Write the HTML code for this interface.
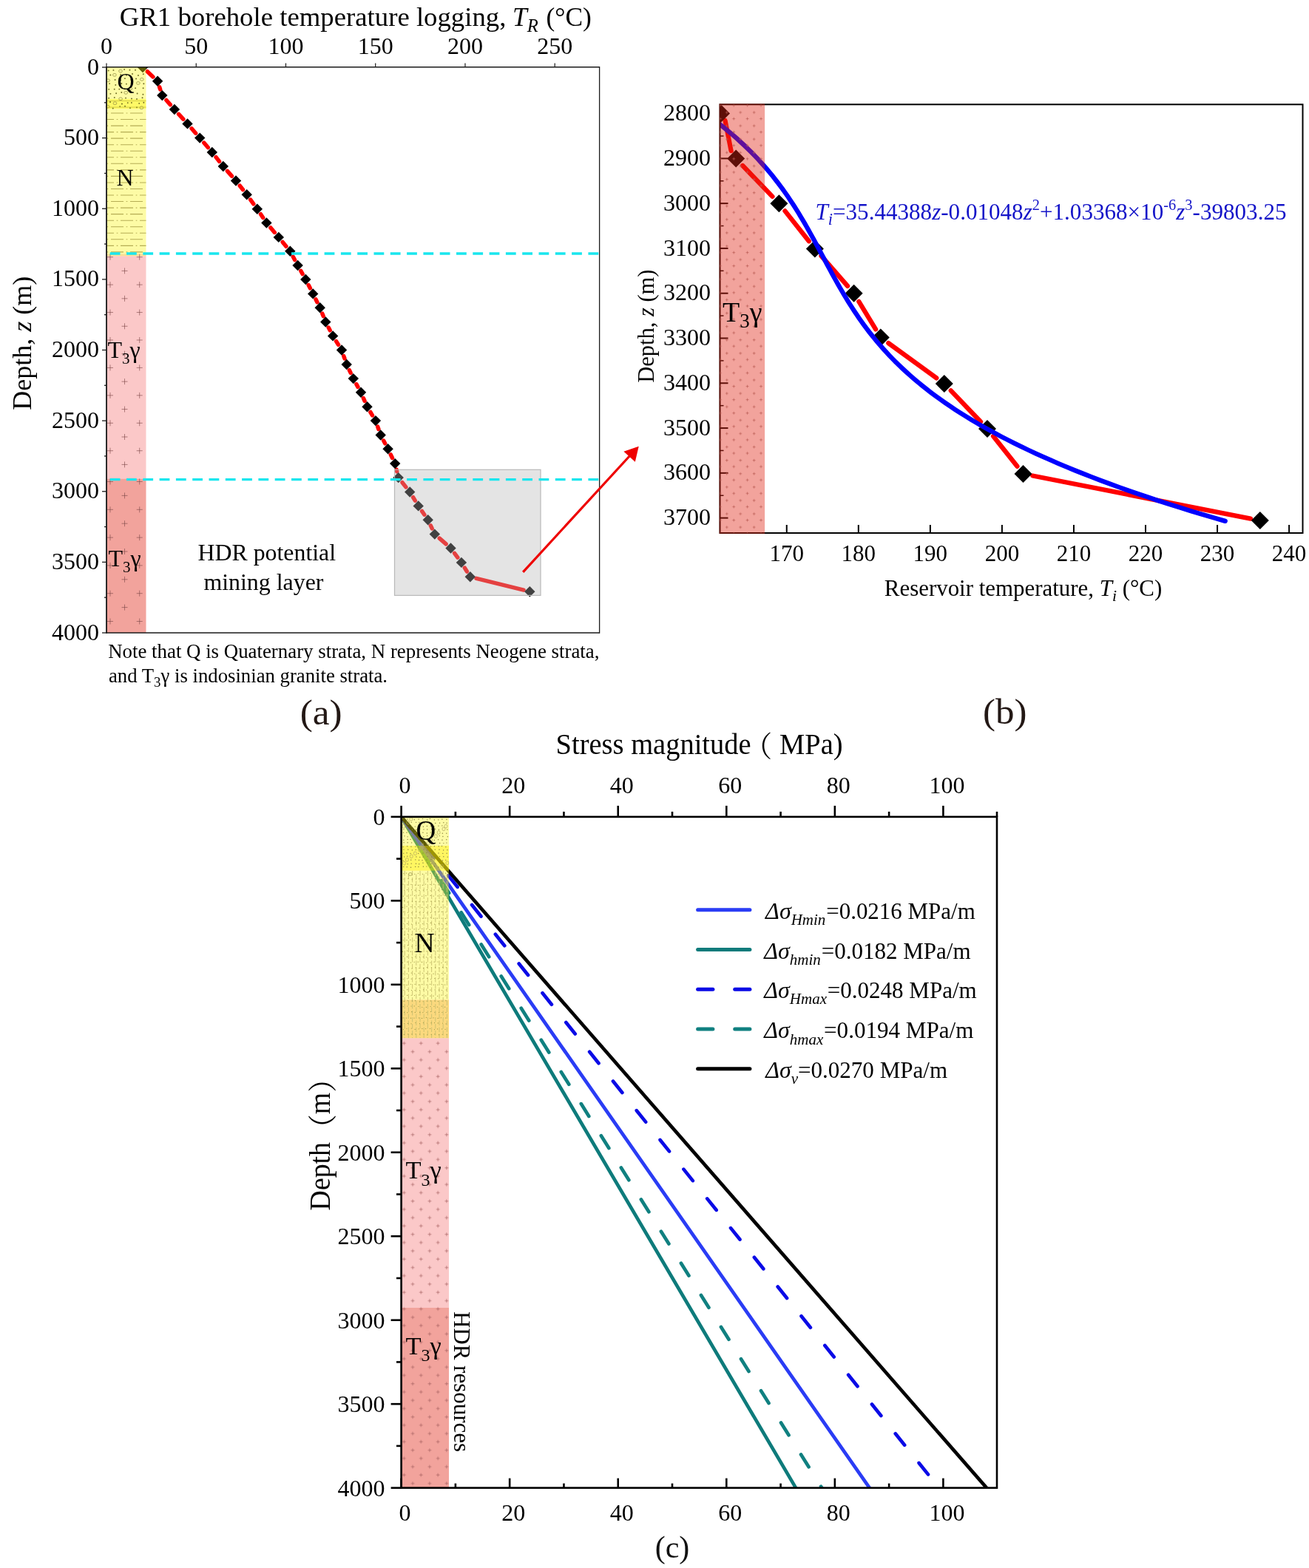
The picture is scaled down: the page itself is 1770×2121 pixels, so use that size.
<!DOCTYPE html>
<html><head><meta charset="utf-8"><title>Figure</title>
<style>html,body{margin:0;padding:0;background:#fff;} svg{display:block;}</style>
</head><body>
<svg width="1770" height="2121" viewBox="0 0 1770 2121"><defs>
<clipPath id="clipA"><rect x="144" y="90.7" width="666.6" height="765.3"/></clipPath>
<clipPath id="clipB"><rect x="973.5" y="141.3" width="788" height="579.7"/></clipPath>
<clipPath id="clipC"><rect x="542.6" y="1104.9" width="805.4" height="907.7"/></clipPath>
</defs>
<g clip-path="url(#clipA)">
<line x1="199.22" y1="96.79" x2="206.88" y2="103.91" stroke="#ff0000" stroke-width="5.5" stroke-linecap="round"/>
<line x1="215.69" y1="117.8" x2="216.71" y2="121" stroke="#ff0000" stroke-width="5.5" stroke-linecap="round"/>
<line x1="224.91" y1="135.49" x2="230.29" y2="141.61" stroke="#ff0000" stroke-width="5.5" stroke-linecap="round"/>
<line x1="241.61" y1="154.3" x2="247.79" y2="161.1" stroke="#ff0000" stroke-width="5.5" stroke-linecap="round"/>
<line x1="259.08" y1="173.81" x2="264.62" y2="180.19" stroke="#ff0000" stroke-width="5.5" stroke-linecap="round"/>
<line x1="275.73" y1="193.06" x2="281.27" y2="199.54" stroke="#ff0000" stroke-width="5.5" stroke-linecap="round"/>
<line x1="292.07" y1="212.67" x2="296.53" y2="218.33" stroke="#ff0000" stroke-width="5.5" stroke-linecap="round"/>
<line x1="307.42" y1="231.37" x2="313.38" y2="238.13" stroke="#ff0000" stroke-width="5.5" stroke-linecap="round"/>
<line x1="324.25" y1="251.18" x2="328.45" y2="256.52" stroke="#ff0000" stroke-width="5.5" stroke-linecap="round"/>
<line x1="338.68" y1="270.09" x2="342.82" y2="275.81" stroke="#ff0000" stroke-width="5.5" stroke-linecap="round"/>
<line x1="352.53" y1="289.76" x2="355.67" y2="294.44" stroke="#ff0000" stroke-width="5.5" stroke-linecap="round"/>
<line x1="365.89" y1="307.99" x2="371.31" y2="314.41" stroke="#ff0000" stroke-width="5.5" stroke-linecap="round"/>
<line x1="382.19" y1="327.47" x2="386.91" y2="333.23" stroke="#ff0000" stroke-width="5.5" stroke-linecap="round"/>
<line x1="396.32" y1="347.29" x2="398.58" y2="351.51" stroke="#ff0000" stroke-width="5.5" stroke-linecap="round"/>
<line x1="406.77" y1="366.41" x2="409.13" y2="370.59" stroke="#ff0000" stroke-width="5.5" stroke-linecap="round"/>
<line x1="417.16" y1="385.57" x2="419.34" y2="389.83" stroke="#ff0000" stroke-width="5.5" stroke-linecap="round"/>
<line x1="427.02" y1="404.99" x2="428.88" y2="408.71" stroke="#ff0000" stroke-width="5.5" stroke-linecap="round"/>
<line x1="435.83" y1="424.2" x2="437.17" y2="427.6" stroke="#ff0000" stroke-width="5.5" stroke-linecap="round"/>
<line x1="444.21" y1="443.05" x2="446.19" y2="446.85" stroke="#ff0000" stroke-width="5.5" stroke-linecap="round"/>
<line x1="454.59" y1="461.61" x2="457.51" y2="466.29" stroke="#ff0000" stroke-width="5.5" stroke-linecap="round"/>
<line x1="464.76" y1="481.54" x2="465.94" y2="484.96" stroke="#ff0000" stroke-width="5.5" stroke-linecap="round"/>
<line x1="472.36" y1="500.67" x2="474.14" y2="504.43" stroke="#ff0000" stroke-width="5.5" stroke-linecap="round"/>
<line x1="481.87" y1="519.56" x2="483.93" y2="523.34" stroke="#ff0000" stroke-width="5.5" stroke-linecap="round"/>
<line x1="491.41" y1="538.59" x2="493.09" y2="542.41" stroke="#ff0000" stroke-width="5.5" stroke-linecap="round"/>
<line x1="500.89" y1="557.48" x2="503.51" y2="561.82" stroke="#ff0000" stroke-width="5.5" stroke-linecap="round"/>
<line x1="510.71" y1="577.12" x2="511.89" y2="580.48" stroke="#ff0000" stroke-width="5.5" stroke-linecap="round"/>
<line x1="518.66" y1="596.02" x2="520.64" y2="599.78" stroke="#ff0000" stroke-width="5.5" stroke-linecap="round"/>
<line x1="528.31" y1="614.95" x2="530.49" y2="619.45" stroke="#ff0000" stroke-width="5.5" stroke-linecap="round"/>
<line x1="536.16" y1="635.37" x2="536.74" y2="637.83" stroke="#ff0000" stroke-width="5.5" stroke-linecap="round"/>
<line x1="544.01" y1="652.74" x2="548.89" y2="658.86" stroke="#ff0000" stroke-width="5.5" stroke-linecap="round"/>
<line x1="558.62" y1="672.76" x2="561.28" y2="677.14" stroke="#ff0000" stroke-width="5.5" stroke-linecap="round"/>
<line x1="570.53" y1="691.39" x2="573.87" y2="696.21" stroke="#ff0000" stroke-width="5.5" stroke-linecap="round"/>
<line x1="582.31" y1="710.9" x2="584.19" y2="714.9" stroke="#ff0000" stroke-width="5.5" stroke-linecap="round"/>
<line x1="594.21" y1="728.18" x2="603.09" y2="735.92" stroke="#ff0000" stroke-width="5.5" stroke-linecap="round"/>
<line x1="614.57" y1="748.33" x2="618.83" y2="754.07" stroke="#ff0000" stroke-width="5.5" stroke-linecap="round"/>
<line x1="628.34" y1="768.15" x2="631.36" y2="773.05" stroke="#ff0000" stroke-width="5.5" stroke-linecap="round"/>
<line x1="644.05" y1="782.34" x2="708.05" y2="798.16" stroke="#ff0000" stroke-width="5.5" stroke-linecap="round"/>
<path d="M193,83.8 L200.2,91 L193,98.2 L185.8,91 Z" fill="#000"/>
<path d="M213.1,102.5 L220.3,109.7 L213.1,116.9 L205.9,109.7 Z" fill="#000"/>
<path d="M219.3,121.9 L226.5,129.1 L219.3,136.3 L212.1,129.1 Z" fill="#000"/>
<path d="M235.9,140.8 L243.1,148 L235.9,155.2 L228.7,148 Z" fill="#000"/>
<path d="M253.5,160.2 L260.7,167.4 L253.5,174.6 L246.3,167.4 Z" fill="#000"/>
<path d="M270.2,179.4 L277.4,186.6 L270.2,193.8 L263,186.6 Z" fill="#000"/>
<path d="M286.8,198.8 L294,206 L286.8,213.2 L279.6,206 Z" fill="#000"/>
<path d="M301.8,217.8 L309,225 L301.8,232.2 L294.6,225 Z" fill="#000"/>
<path d="M319,237.3 L326.2,244.5 L319,251.7 L311.8,244.5 Z" fill="#000"/>
<path d="M333.7,256 L340.9,263.2 L333.7,270.4 L326.5,263.2 Z" fill="#000"/>
<path d="M347.8,275.5 L355,282.7 L347.8,289.9 L340.6,282.7 Z" fill="#000"/>
<path d="M360.4,294.3 L367.6,301.5 L360.4,308.7 L353.2,301.5 Z" fill="#000"/>
<path d="M376.8,313.7 L384,320.9 L376.8,328.1 L369.6,320.9 Z" fill="#000"/>
<path d="M392.3,332.6 L399.5,339.8 L392.3,347 L385.1,339.8 Z" fill="#000"/>
<path d="M402.6,351.8 L409.8,359 L402.6,366.2 L395.4,359 Z" fill="#000"/>
<path d="M413.3,370.8 L420.5,378 L413.3,385.2 L406.1,378 Z" fill="#000"/>
<path d="M423.2,390.2 L430.4,397.4 L423.2,404.6 L416,397.4 Z" fill="#000"/>
<path d="M432.7,409.1 L439.9,416.3 L432.7,423.5 L425.5,416.3 Z" fill="#000"/>
<path d="M440.3,428.3 L447.5,435.5 L440.3,442.7 L433.1,435.5 Z" fill="#000"/>
<path d="M450.1,447.2 L457.3,454.4 L450.1,461.6 L442.9,454.4 Z" fill="#000"/>
<path d="M462,466.3 L469.2,473.5 L462,480.7 L454.8,473.5 Z" fill="#000"/>
<path d="M468.7,485.8 L475.9,493 L468.7,500.2 L461.5,493 Z" fill="#000"/>
<path d="M477.8,504.9 L485,512.1 L477.8,519.3 L470.6,512.1 Z" fill="#000"/>
<path d="M488,523.6 L495.2,530.8 L488,538 L480.8,530.8 Z" fill="#000"/>
<path d="M496.5,543 L503.7,550.2 L496.5,557.4 L489.3,550.2 Z" fill="#000"/>
<path d="M507.9,561.9 L515.1,569.1 L507.9,576.3 L500.7,569.1 Z" fill="#000"/>
<path d="M514.7,581.3 L521.9,588.5 L514.7,595.7 L507.5,588.5 Z" fill="#000"/>
<path d="M524.6,600.1 L531.8,607.3 L524.6,614.5 L517.4,607.3 Z" fill="#000"/>
<path d="M534.2,619.9 L541.4,627.1 L534.2,634.3 L527,627.1 Z" fill="#000"/>
<path d="M538.7,638.9 L545.9,646.1 L538.7,653.3 L531.5,646.1 Z" fill="#000"/>
<path d="M554.2,658.3 L561.4,665.5 L554.2,672.7 L547,665.5 Z" fill="#000"/>
<path d="M565.7,677.2 L572.9,684.4 L565.7,691.6 L558.5,684.4 Z" fill="#000"/>
<path d="M578.7,696 L585.9,703.2 L578.7,710.4 L571.5,703.2 Z" fill="#000"/>
<path d="M587.8,715.4 L595,722.6 L587.8,729.8 L580.6,722.6 Z" fill="#000"/>
<path d="M609.5,734.3 L616.7,741.5 L609.5,748.7 L602.3,741.5 Z" fill="#000"/>
<path d="M623.9,753.7 L631.1,760.9 L623.9,768.1 L616.7,760.9 Z" fill="#000"/>
<path d="M635.8,773.1 L643,780.3 L635.8,787.5 L628.6,780.3 Z" fill="#000"/>
<path d="M716.3,793 L723.5,800.2 L716.3,807.4 L709.1,800.2 Z" fill="#000"/>
</g>
<rect x="533.5" y="635.3" width="197.5" height="170.1" fill="rgb(179,179,179)" fill-opacity="0.36" stroke="#b9b9b9" stroke-width="1.2"/>
<rect x="144" y="90.7" width="53.5" height="43" fill="rgb(250, 245, 10)" fill-opacity="0.37"/>
<rect x="144" y="133.7" width="53.5" height="13.6" fill="rgb(255, 245, 0)" fill-opacity="0.6"/>
<rect x="144" y="147.3" width="53.5" height="196.2" fill="rgb(250, 245, 10)" fill-opacity="0.37"/>
<rect x="144" y="343.5" width="53.5" height="3" fill="rgb(250, 190, 40)" fill-opacity="0.5"/>
<rect x="144" y="346.5" width="53.5" height="301.3" fill="rgb(245, 110, 110)" fill-opacity="0.38"/>
<rect x="144" y="647.8" width="53.5" height="208.2" fill="rgb(225, 35, 20)" fill-opacity="0.42"/>
<path d="M145,347.7h8M149,343.7v8M184.7,347.7h8M188.7,343.7v8M164.5,366.41h8M168.5,362.41v8M145,385.13h8M149,381.13v8M184.7,385.13h8M188.7,381.13v8M164.5,403.84h8M168.5,399.84v8M145,422.56h8M149,418.56v8M184.7,422.56h8M188.7,418.56v8M164.5,441.27h8M168.5,437.27v8M145,459.99h8M149,455.99v8M184.7,459.99h8M188.7,455.99v8M164.5,478.7h8M168.5,474.7v8M145,497.42h8M149,493.42v8M184.7,497.42h8M188.7,493.42v8M164.5,516.13h8M168.5,512.13v8M145,534.85h8M149,530.85v8M184.7,534.85h8M188.7,530.85v8M164.5,553.57h8M168.5,549.57v8M145,572.28h8M149,568.28v8M184.7,572.28h8M188.7,568.28v8M164.5,591h8M168.5,587v8M145,609.71h8M149,605.71v8M184.7,609.71h8M188.7,605.71v8M164.5,628.42h8M168.5,624.42v8M145,651.5h8M149,647.5v8M184.7,651.5h8M188.7,647.5v8M164.5,670.4h8M168.5,666.4v8M145,689.3h8M149,685.3v8M184.7,689.3h8M188.7,685.3v8M164.5,708.2h8M168.5,704.2v8M145,727.1h8M149,723.1v8M184.7,727.1h8M188.7,723.1v8M164.5,746h8M168.5,742v8M145,764.9h8M149,760.9v8M184.7,764.9h8M188.7,760.9v8M164.5,783.8h8M168.5,779.8v8M145,802.7h8M149,798.7v8M184.7,802.7h8M188.7,798.7v8M164.5,821.6h8M168.5,817.6v8M145,840.5h8M149,836.5v8M184.7,840.5h8M188.7,836.5v8" stroke="#7d4848" stroke-opacity="0.7" stroke-width="0.9" fill="none"/>
<circle cx="146.66" cy="95.52" r="0.95" fill="#6b6820"/><circle cx="153.43" cy="94.88" r="0.95" fill="#6b6820"/><ellipse cx="162.96" cy="96.12" rx="2.4" ry="1.9" fill="none" stroke="#8c8840" stroke-width="0.7"/><circle cx="168.1" cy="93.91" r="0.95" fill="#6b6820"/><circle cx="175.46" cy="94.66" r="0.95" fill="#6b6820"/><circle cx="183" cy="94.71" r="0.95" fill="#6b6820"/><circle cx="192.58" cy="94.14" r="0.95" fill="#6b6820"/><circle cx="149.36" cy="101.44" r="0.95" fill="#6b6820"/><ellipse cx="154.88" cy="101.34" rx="2.4" ry="1.9" fill="none" stroke="#8c8840" stroke-width="0.7"/><circle cx="163.23" cy="100.88" r="0.95" fill="#6b6820"/><circle cx="170.91" cy="101.77" r="0.95" fill="#6b6820"/><circle cx="179.01" cy="100.05" r="0.95" fill="#6b6820"/><circle cx="186.94" cy="102.05" r="0.95" fill="#6b6820"/><circle cx="193.78" cy="100.26" r="0.95" fill="#6b6820"/><ellipse cx="146.14" cy="108.85" rx="2.4" ry="1.9" fill="none" stroke="#8c8840" stroke-width="0.7"/><circle cx="155.62" cy="108" r="0.95" fill="#6b6820"/><circle cx="162.99" cy="108.56" r="0.95" fill="#6b6820"/><circle cx="168.91" cy="106.15" r="0.95" fill="#6b6820"/><circle cx="177.39" cy="107.64" r="0.95" fill="#6b6820"/><circle cx="184.06" cy="106.57" r="0.95" fill="#6b6820"/><ellipse cx="191.8" cy="107.35" rx="2.4" ry="1.9" fill="none" stroke="#8c8840" stroke-width="0.7"/><circle cx="148.06" cy="113.08" r="0.95" fill="#6b6820"/><circle cx="156.26" cy="114.9" r="0.95" fill="#6b6820"/><circle cx="164.28" cy="113.06" r="0.95" fill="#6b6820"/><circle cx="170.89" cy="113.6" r="0.95" fill="#6b6820"/><circle cx="178.26" cy="112.79" r="0.95" fill="#6b6820"/><ellipse cx="186.84" cy="112.43" rx="2.4" ry="1.9" fill="none" stroke="#8c8840" stroke-width="0.7"/><circle cx="194.35" cy="113.31" r="0.95" fill="#6b6820"/><circle cx="147.16" cy="120.84" r="0.95" fill="#6b6820"/><circle cx="154.71" cy="120.66" r="0.95" fill="#6b6820"/><circle cx="161.3" cy="120.59" r="0.95" fill="#6b6820"/><circle cx="168.79" cy="120.28" r="0.95" fill="#6b6820"/><ellipse cx="176.34" cy="119.87" rx="2.4" ry="1.9" fill="none" stroke="#8c8840" stroke-width="0.7"/><circle cx="183.1" cy="119.23" r="0.95" fill="#6b6820"/><circle cx="193.61" cy="119.19" r="0.95" fill="#6b6820"/><circle cx="149.41" cy="126.83" r="0.95" fill="#6b6820"/><circle cx="157.12" cy="126.27" r="0.95" fill="#6b6820"/><circle cx="164.31" cy="124.96" r="0.95" fill="#6b6820"/><ellipse cx="170.23" cy="125.39" rx="2.4" ry="1.9" fill="none" stroke="#8c8840" stroke-width="0.7"/><circle cx="178.09" cy="125.07" r="0.95" fill="#6b6820"/><circle cx="185.61" cy="126.52" r="0.95" fill="#6b6820"/><circle cx="193.4" cy="127.8" r="0.95" fill="#6b6820"/><circle cx="147.08" cy="132.78" r="0.95" fill="#6b6820"/><circle cx="154.76" cy="131.89" r="0.95" fill="#6b6820"/><ellipse cx="163.07" cy="133.74" rx="2.4" ry="1.9" fill="none" stroke="#8c8840" stroke-width="0.7"/><circle cx="170.02" cy="132.59" r="0.95" fill="#6b6820"/><circle cx="177.99" cy="133.43" r="0.95" fill="#6b6820"/><circle cx="185.01" cy="133.97" r="0.95" fill="#6b6820"/><circle cx="192.53" cy="132.22" r="0.95" fill="#6b6820"/><circle cx="148.97" cy="137.98" r="0.95" fill="#6b6820"/><ellipse cx="155.41" cy="139.67" rx="2.4" ry="1.9" fill="none" stroke="#8c8840" stroke-width="0.7"/><circle cx="164.91" cy="140.46" r="0.95" fill="#6b6820"/><circle cx="172.72" cy="139.09" r="0.95" fill="#6b6820"/><circle cx="177.89" cy="138.91" r="0.95" fill="#6b6820"/><circle cx="188.17" cy="139.87" r="0.95" fill="#6b6820"/><circle cx="194.35" cy="138.81" r="0.95" fill="#6b6820"/><ellipse cx="145.6" cy="144.22" rx="2.4" ry="1.9" fill="none" stroke="#8c8840" stroke-width="0.7"/><circle cx="152.74" cy="146.51" r="0.95" fill="#6b6820"/><circle cx="162.15" cy="144.11" r="0.95" fill="#6b6820"/><circle cx="169.03" cy="143.81" r="0.95" fill="#6b6820"/><circle cx="175.97" cy="145.99" r="0.95" fill="#6b6820"/><circle cx="184.98" cy="145.18" r="0.95" fill="#6b6820"/><ellipse cx="191.38" cy="145.74" rx="2.4" ry="1.9" fill="none" stroke="#8c8840" stroke-width="0.7"/>
<path d="M144,136.5H197.5M144,145H197.5" stroke="#c8c040" stroke-width="0.8" fill="none"/>
<path d="M144.7,153h1.6M150,153H167M170.7,153h1.6M176,153H193M144.5,161.54H154M157.7,161.54h1.6M163,161.54H180M183.7,161.54h1.6M189,161.54H197.5M144.7,170.08h1.6M150,170.08H167M170.7,170.08h1.6M176,170.08H193M144.5,178.62H154M157.7,178.62h1.6M163,178.62H180M183.7,178.62h1.6M189,178.62H197.5M144.7,187.16h1.6M150,187.16H167M170.7,187.16h1.6M176,187.16H193M144.5,195.7H154M157.7,195.7h1.6M163,195.7H180M183.7,195.7h1.6M189,195.7H197.5M144.7,204.24h1.6M150,204.24H167M170.7,204.24h1.6M176,204.24H193M144.5,212.78H154M157.7,212.78h1.6M163,212.78H180M183.7,212.78h1.6M189,212.78H197.5M144.7,221.32h1.6M150,221.32H167M170.7,221.32h1.6M176,221.32H193M144.5,229.86H154M157.7,229.86h1.6M163,229.86H180M183.7,229.86h1.6M189,229.86H197.5M144.7,238.4h1.6M150,238.4H167M170.7,238.4h1.6M176,238.4H193M144.5,246.94H154M157.7,246.94h1.6M163,246.94H180M183.7,246.94h1.6M189,246.94H197.5M144.7,255.48h1.6M150,255.48H167M170.7,255.48h1.6M176,255.48H193M144.5,264.02H154M157.7,264.02h1.6M163,264.02H180M183.7,264.02h1.6M189,264.02H197.5M144.7,272.56h1.6M150,272.56H167M170.7,272.56h1.6M176,272.56H193M144.5,281.1H154M157.7,281.1h1.6M163,281.1H180M183.7,281.1h1.6M189,281.1H197.5M144.7,289.64h1.6M150,289.64H167M170.7,289.64h1.6M176,289.64H193M144.5,298.18H154M157.7,298.18h1.6M163,298.18H180M183.7,298.18h1.6M189,298.18H197.5M144.7,306.72h1.6M150,306.72H167M170.7,306.72h1.6M176,306.72H193M144.5,315.26H154M157.7,315.26h1.6M163,315.26H180M183.7,315.26h1.6M189,315.26H197.5M144.7,323.8h1.6M150,323.8H167M170.7,323.8h1.6M176,323.8H193M144.5,332.34H154M157.7,332.34h1.6M163,332.34H180M183.7,332.34h1.6M189,332.34H197.5M144.7,340.88h1.6M150,340.88H167M170.7,340.88h1.6M176,340.88H193" stroke="#b5ad55" stroke-width="1.1" fill="none"/>
<line x1="148.7" y1="343" x2="810.6" y2="343" stroke="#19e6ee" stroke-width="3.4" stroke-dasharray="13.8 8.5"/>
<line x1="148.7" y1="648.6" x2="810.6" y2="648.6" stroke="#19e6ee" stroke-width="3.4" stroke-dasharray="13.8 8.5"/>
<line x1="144" y1="90" x2="144" y2="856.7" stroke="#222" stroke-width="1.9" />
<line x1="144" y1="90.7" x2="810.6" y2="90.7" stroke="#1a1a1a" stroke-width="1.4" />
<line x1="144" y1="856" x2="810.6" y2="856" stroke="#1a1a1a" stroke-width="1.4" />
<line x1="810.6" y1="90" x2="810.6" y2="856.7" stroke="#1a1a1a" stroke-width="1.3" />
<line x1="144" y1="90.7" x2="144" y2="85.5" stroke="#1a1a1a" stroke-width="1.2" />
<text x="144" y="72.8" font-size="32" text-anchor="middle" font-family="'Liberation Serif', 'Times New Roman', serif" >0</text>
<line x1="265.24" y1="90.7" x2="265.24" y2="85.5" stroke="#1a1a1a" stroke-width="1.2" />
<text x="265.24" y="72.8" font-size="32" text-anchor="middle" font-family="'Liberation Serif', 'Times New Roman', serif" >50</text>
<line x1="386.48" y1="90.7" x2="386.48" y2="85.5" stroke="#1a1a1a" stroke-width="1.2" />
<text x="386.48" y="72.8" font-size="32" text-anchor="middle" font-family="'Liberation Serif', 'Times New Roman', serif" >100</text>
<line x1="507.72" y1="90.7" x2="507.72" y2="85.5" stroke="#1a1a1a" stroke-width="1.2" />
<text x="507.72" y="72.8" font-size="32" text-anchor="middle" font-family="'Liberation Serif', 'Times New Roman', serif" >150</text>
<line x1="628.96" y1="90.7" x2="628.96" y2="85.5" stroke="#1a1a1a" stroke-width="1.2" />
<text x="628.96" y="72.8" font-size="32" text-anchor="middle" font-family="'Liberation Serif', 'Times New Roman', serif" >200</text>
<line x1="750.2" y1="90.7" x2="750.2" y2="85.5" stroke="#1a1a1a" stroke-width="1.2" />
<text x="750.2" y="72.8" font-size="32" text-anchor="middle" font-family="'Liberation Serif', 'Times New Roman', serif" >250</text>
<line x1="144" y1="91" x2="138" y2="91" stroke="#1a1a1a" stroke-width="1.3" />
<text x="134" y="100.5" font-size="32" text-anchor="end" font-family="'Liberation Serif', 'Times New Roman', serif" >0</text>
<line x1="144" y1="138.81" x2="141" y2="138.81" stroke="#1a1a1a" stroke-width="1.3" />
<line x1="144" y1="186.62" x2="138" y2="186.62" stroke="#1a1a1a" stroke-width="1.3" />
<text x="134" y="196.12" font-size="32" text-anchor="end" font-family="'Liberation Serif', 'Times New Roman', serif" >500</text>
<line x1="144" y1="234.44" x2="141" y2="234.44" stroke="#1a1a1a" stroke-width="1.3" />
<line x1="144" y1="282.25" x2="138" y2="282.25" stroke="#1a1a1a" stroke-width="1.3" />
<text x="134" y="291.75" font-size="32" text-anchor="end" font-family="'Liberation Serif', 'Times New Roman', serif" >1000</text>
<line x1="144" y1="330.06" x2="141" y2="330.06" stroke="#1a1a1a" stroke-width="1.3" />
<line x1="144" y1="377.88" x2="138" y2="377.88" stroke="#1a1a1a" stroke-width="1.3" />
<text x="134" y="387.38" font-size="32" text-anchor="end" font-family="'Liberation Serif', 'Times New Roman', serif" >1500</text>
<line x1="144" y1="425.69" x2="141" y2="425.69" stroke="#1a1a1a" stroke-width="1.3" />
<line x1="144" y1="473.5" x2="138" y2="473.5" stroke="#1a1a1a" stroke-width="1.3" />
<text x="134" y="483" font-size="32" text-anchor="end" font-family="'Liberation Serif', 'Times New Roman', serif" >2000</text>
<line x1="144" y1="521.31" x2="141" y2="521.31" stroke="#1a1a1a" stroke-width="1.3" />
<line x1="144" y1="569.12" x2="138" y2="569.12" stroke="#1a1a1a" stroke-width="1.3" />
<text x="134" y="578.62" font-size="32" text-anchor="end" font-family="'Liberation Serif', 'Times New Roman', serif" >2500</text>
<line x1="144" y1="616.94" x2="141" y2="616.94" stroke="#1a1a1a" stroke-width="1.3" />
<line x1="144" y1="664.75" x2="138" y2="664.75" stroke="#1a1a1a" stroke-width="1.3" />
<text x="134" y="674.25" font-size="32" text-anchor="end" font-family="'Liberation Serif', 'Times New Roman', serif" >3000</text>
<line x1="144" y1="712.56" x2="141" y2="712.56" stroke="#1a1a1a" stroke-width="1.3" />
<line x1="144" y1="760.38" x2="138" y2="760.38" stroke="#1a1a1a" stroke-width="1.3" />
<text x="134" y="769.88" font-size="32" text-anchor="end" font-family="'Liberation Serif', 'Times New Roman', serif" >3500</text>
<line x1="144" y1="808.19" x2="141" y2="808.19" stroke="#1a1a1a" stroke-width="1.3" />
<line x1="144" y1="856" x2="138" y2="856" stroke="#1a1a1a" stroke-width="1.3" />
<text x="134" y="865.5" font-size="32" text-anchor="end" font-family="'Liberation Serif', 'Times New Roman', serif" >4000</text>
<text x="161.8" y="34.7" font-size="36" text-anchor="start" font-family="'Liberation Serif', 'Times New Roman', serif" textLength="522.6" lengthAdjust="spacingAndGlyphs">GR1 borehole temperature logging,</text>
<text x="693" y="34.7" font-size="36" text-anchor="start" font-family="'Liberation Serif', 'Times New Roman', serif" textLength="106.8" lengthAdjust="spacingAndGlyphs"><tspan font-style="italic">T</tspan><tspan font-style="italic" font-size="25" dy="8.5">R</tspan><tspan dy="-8.5" dx="2"> (°C)</tspan></text>
<text transform="translate(42.4,464.2) rotate(-90)" font-size="36" text-anchor="middle" font-family="'Liberation Serif', 'Times New Roman', serif">Depth, <tspan font-style="italic">z</tspan> (m)</text>
<text x="158.5" y="121.3" font-size="32" text-anchor="start" font-family="'Liberation Serif', 'Times New Roman', serif" >Q</text>
<text x="157.5" y="250.7" font-size="32" text-anchor="start" font-family="'Liberation Serif', 'Times New Roman', serif" >N</text>
<text x="145.5" y="484" font-size="32" text-anchor="start" font-family="'Liberation Serif', 'Times New Roman', serif" >T<tspan font-size="21" dy="8.3">3</tspan><tspan dy="-8.3">γ</tspan></text>
<text x="146.5" y="766" font-size="32" text-anchor="start" font-family="'Liberation Serif', 'Times New Roman', serif" >T<tspan font-size="21" dy="8.3">3</tspan><tspan dy="-8.3">γ</tspan></text>
<text x="360.8" y="757.8" font-size="32" text-anchor="middle" font-family="'Liberation Serif', 'Times New Roman', serif" textLength="186.5" lengthAdjust="spacingAndGlyphs">HDR potential</text>
<text x="356.4" y="797.6" font-size="32" text-anchor="middle" font-family="'Liberation Serif', 'Times New Roman', serif" textLength="162" lengthAdjust="spacingAndGlyphs">mining layer</text>
<line x1="707.2" y1="773.9" x2="853" y2="615" stroke="#ee0000" stroke-width="3.2" />
<path d="M863.7,603.8 L843.4,610.8 L858.8,624.7 Z" fill="#ee0000"/>
<text x="146.2" y="890" font-size="27" text-anchor="start" font-family="'Liberation Serif', 'Times New Roman', serif" textLength="664.2" lengthAdjust="spacingAndGlyphs">Note that Q is Quaternary strata, N represents Neogene strata,</text>
<text x="147" y="922.8" font-size="27" text-anchor="start" font-family="'Liberation Serif', 'Times New Roman', serif" textLength="377" lengthAdjust="spacingAndGlyphs">and T<tspan font-size="19" dy="6">3</tspan><tspan dy="-6">γ is indosinian granite strata.</tspan></text>
<text x="434.2" y="979.8" font-size="49" text-anchor="middle" font-family="'Liberation Serif', 'Times New Roman', serif" fill="#231815" textLength="57" lengthAdjust="spacingAndGlyphs">(a)</text>
<g clip-path="url(#clipB)">
<line x1="980.5" y1="163" x2="988.6" y2="204" stroke="#ff0000" stroke-width="6.3" stroke-linecap="round"/>
<line x1="1004.2" y1="223.98" x2="1044.4" y2="265.82" stroke="#ff0000" stroke-width="6.3" stroke-linecap="round"/>
<line x1="1061.47" y1="285.39" x2="1093.83" y2="326.21" stroke="#ff0000" stroke-width="6.3" stroke-linecap="round"/>
<line x1="1110.45" y1="346.19" x2="1146.05" y2="386.91" stroke="#ff0000" stroke-width="6.3" stroke-linecap="round"/>
<line x1="1161.33" y1="407.82" x2="1184.07" y2="445.38" stroke="#ff0000" stroke-width="6.3" stroke-linecap="round"/>
<line x1="1201.32" y1="464.14" x2="1266.28" y2="511.36" stroke="#ff0000" stroke-width="6.3" stroke-linecap="round"/>
<line x1="1285.78" y1="528.4" x2="1326.02" y2="570.5" stroke="#ff0000" stroke-width="6.3" stroke-linecap="round"/>
<line x1="1343.08" y1="590.08" x2="1375.42" y2="630.82" stroke="#ff0000" stroke-width="6.3" stroke-linecap="round"/>
<line x1="1396.25" y1="643.51" x2="1691.05" y2="701.59" stroke="#ff0000" stroke-width="6.3" stroke-linecap="round"/>
<path d="M975,141.5 L987,153.5 L975,165.5 L963,153.5 Z" fill="#000"/>
<path d="M995.2,202.6 L1007.2,214.6 L995.2,226.6 L983.2,214.6 Z" fill="#000"/>
<path d="M1053.4,263.2 L1065.4,275.2 L1053.4,287.2 L1041.4,275.2 Z" fill="#000"/>
<path d="M1101.9,324.4 L1113.9,336.4 L1101.9,348.4 L1089.9,336.4 Z" fill="#000"/>
<path d="M1154.6,384.7 L1166.6,396.7 L1154.6,408.7 L1142.6,396.7 Z" fill="#000"/>
<path d="M1190.8,444.5 L1202.8,456.5 L1190.8,468.5 L1178.8,456.5 Z" fill="#000"/>
<path d="M1276.8,507 L1288.8,519 L1276.8,531 L1264.8,519 Z" fill="#000"/>
<path d="M1335,567.9 L1347,579.9 L1335,591.9 L1323,579.9 Z" fill="#000"/>
<path d="M1383.5,629 L1395.5,641 L1383.5,653 L1371.5,641 Z" fill="#000"/>
<path d="M1703.8,692.1 L1715.8,704.1 L1703.8,716.1 L1691.8,704.1 Z" fill="#000"/>
<polyline points="962.77,160 968.81,164.58 974.68,169.16 980.37,173.74 985.89,178.32 991.26,182.89 996.46,187.47 1001.51,192.05 1006.41,196.63 1011.16,201.21 1015.78,205.79 1020.25,210.37 1024.6,214.95 1028.82,219.53 1032.91,224.11 1036.89,228.68 1040.75,233.26 1044.5,237.84 1048.14,242.42 1051.69,247 1055.14,251.58 1058.49,256.16 1061.76,260.74 1064.95,265.32 1068.05,269.9 1071.08,274.47 1074.05,279.05 1076.94,283.63 1079.78,288.21 1082.55,292.79 1085.28,297.37 1087.96,301.95 1090.59,306.53 1093.19,311.11 1095.75,315.69 1098.28,320.26 1100.79,324.84 1103.27,329.42 1105.74,334 1108.19,338.58 1110.64,343.16 1113.08,347.74 1115.53,352.32 1117.97,356.9 1120.43,361.48 1122.91,366.05 1125.4,370.63 1127.91,375.21 1130.46,379.79 1133.03,384.37 1135.64,388.95 1138.29,393.53 1140.99,398.11 1143.74,402.69 1146.54,407.27 1149.39,411.84 1152.32,416.42 1155.3,421 1158.37,425.58 1161.5,430.16 1164.72,434.74 1168.02,439.32 1171.41,443.9 1174.9,448.48 1178.48,453.06 1182.17,457.63 1185.97,462.21 1189.87,466.79 1193.89,471.37 1198.04,475.95 1202.3,480.53 1206.7,485.11 1211.23,489.69 1215.9,494.27 1220.71,498.85 1225.67,503.42 1230.78,508 1236.05,512.58 1241.48,517.16 1247.07,521.74 1252.83,526.32 1258.76,530.9 1264.87,535.48 1271.17,540.06 1277.65,544.64 1284.32,549.21 1291.19,553.79 1298.26,558.37 1305.54,562.95 1313.02,567.53 1320.72,572.11 1328.63,576.69 1336.77,581.27 1345.13,585.85 1353.73,590.43 1362.56,595 1371.63,599.58 1380.95,604.16 1390.51,608.74 1400.33,613.32 1410.41,617.9 1420.75,622.48 1431.35,627.06 1442.23,631.64 1453.38,636.22 1464.81,640.79 1476.53,645.37 1488.53,649.95 1500.83,654.53 1513.43,659.11 1526.33,663.69 1539.53,668.27 1553.05,672.85 1566.88,677.43 1581.03,682.01 1595.51,686.58 1610.31,691.16 1625.45,695.74 1640.92,700.32 1656.74,704.9" fill="none" stroke="#0000ff" stroke-width="6.3" stroke-linejoin="round" stroke-linecap="round"/>
</g>
<rect x="973.5" y="141.3" width="788.0" height="579.7" fill="none" stroke="#000" stroke-width="2"/>
<line x1="973.5" y1="153.6" x2="984.5" y2="153.6" stroke="#000" stroke-width="2" />
<text x="961" y="163.2" font-size="32" text-anchor="end" font-family="'Liberation Serif', 'Times New Roman', serif" >2800</text>
<line x1="973.5" y1="214.38" x2="984.5" y2="214.38" stroke="#000" stroke-width="2" />
<text x="961" y="223.98" font-size="32" text-anchor="end" font-family="'Liberation Serif', 'Times New Roman', serif" >2900</text>
<line x1="973.5" y1="275.16" x2="984.5" y2="275.16" stroke="#000" stroke-width="2" />
<text x="961" y="284.76" font-size="32" text-anchor="end" font-family="'Liberation Serif', 'Times New Roman', serif" >3000</text>
<line x1="973.5" y1="335.94" x2="984.5" y2="335.94" stroke="#000" stroke-width="2" />
<text x="961" y="345.54" font-size="32" text-anchor="end" font-family="'Liberation Serif', 'Times New Roman', serif" >3100</text>
<line x1="973.5" y1="396.72" x2="984.5" y2="396.72" stroke="#000" stroke-width="2" />
<text x="961" y="406.32" font-size="32" text-anchor="end" font-family="'Liberation Serif', 'Times New Roman', serif" >3200</text>
<line x1="973.5" y1="457.5" x2="984.5" y2="457.5" stroke="#000" stroke-width="2" />
<text x="961" y="467.1" font-size="32" text-anchor="end" font-family="'Liberation Serif', 'Times New Roman', serif" >3300</text>
<line x1="973.5" y1="518.28" x2="984.5" y2="518.28" stroke="#000" stroke-width="2" />
<text x="961" y="527.88" font-size="32" text-anchor="end" font-family="'Liberation Serif', 'Times New Roman', serif" >3400</text>
<line x1="973.5" y1="579.06" x2="984.5" y2="579.06" stroke="#000" stroke-width="2" />
<text x="961" y="588.66" font-size="32" text-anchor="end" font-family="'Liberation Serif', 'Times New Roman', serif" >3500</text>
<line x1="973.5" y1="639.84" x2="984.5" y2="639.84" stroke="#000" stroke-width="2" />
<text x="961" y="649.44" font-size="32" text-anchor="end" font-family="'Liberation Serif', 'Times New Roman', serif" >3600</text>
<line x1="973.5" y1="700.62" x2="984.5" y2="700.62" stroke="#000" stroke-width="2" />
<text x="961" y="710.22" font-size="32" text-anchor="end" font-family="'Liberation Serif', 'Times New Roman', serif" >3700</text>
<line x1="973.5" y1="183.99" x2="978.5" y2="183.99" stroke="#000" stroke-width="1.5" />
<line x1="973.5" y1="244.77" x2="978.5" y2="244.77" stroke="#000" stroke-width="1.5" />
<line x1="973.5" y1="305.55" x2="978.5" y2="305.55" stroke="#000" stroke-width="1.5" />
<line x1="973.5" y1="366.33" x2="978.5" y2="366.33" stroke="#000" stroke-width="1.5" />
<line x1="973.5" y1="427.11" x2="978.5" y2="427.11" stroke="#000" stroke-width="1.5" />
<line x1="973.5" y1="487.89" x2="978.5" y2="487.89" stroke="#000" stroke-width="1.5" />
<line x1="973.5" y1="548.67" x2="978.5" y2="548.67" stroke="#000" stroke-width="1.5" />
<line x1="973.5" y1="609.45" x2="978.5" y2="609.45" stroke="#000" stroke-width="1.5" />
<line x1="973.5" y1="670.23" x2="978.5" y2="670.23" stroke="#000" stroke-width="1.5" />
<line x1="1063.75" y1="721" x2="1063.75" y2="710" stroke="#000" stroke-width="2" />
<text x="1063.75" y="759.2" font-size="31" text-anchor="middle" font-family="'Liberation Serif', 'Times New Roman', serif" >170</text>
<line x1="1160.8" y1="721" x2="1160.8" y2="710" stroke="#000" stroke-width="2" />
<text x="1160.8" y="759.2" font-size="31" text-anchor="middle" font-family="'Liberation Serif', 'Times New Roman', serif" >180</text>
<line x1="1257.85" y1="721" x2="1257.85" y2="710" stroke="#000" stroke-width="2" />
<text x="1257.85" y="759.2" font-size="31" text-anchor="middle" font-family="'Liberation Serif', 'Times New Roman', serif" >190</text>
<line x1="1354.9" y1="721" x2="1354.9" y2="710" stroke="#000" stroke-width="2" />
<text x="1354.9" y="759.2" font-size="31" text-anchor="middle" font-family="'Liberation Serif', 'Times New Roman', serif" >200</text>
<line x1="1451.95" y1="721" x2="1451.95" y2="710" stroke="#000" stroke-width="2" />
<text x="1451.95" y="759.2" font-size="31" text-anchor="middle" font-family="'Liberation Serif', 'Times New Roman', serif" >210</text>
<line x1="1549" y1="721" x2="1549" y2="710" stroke="#000" stroke-width="2" />
<text x="1549" y="759.2" font-size="31" text-anchor="middle" font-family="'Liberation Serif', 'Times New Roman', serif" >220</text>
<line x1="1646.05" y1="721" x2="1646.05" y2="710" stroke="#000" stroke-width="2" />
<text x="1646.05" y="759.2" font-size="31" text-anchor="middle" font-family="'Liberation Serif', 'Times New Roman', serif" >230</text>
<line x1="1743.1" y1="721" x2="1743.1" y2="710" stroke="#000" stroke-width="2" />
<text x="1743.1" y="759.2" font-size="31" text-anchor="middle" font-family="'Liberation Serif', 'Times New Roman', serif" >240</text>
<pattern id="plusB" patternUnits="userSpaceOnUse" x="978.2" y="563.9" width="18.4" height="18.1"><path d="M2.7,4.5h3.8M4.6,2.6v3.8M12.1,13h3.8M14,11.1v3.8" stroke="#b85850" stroke-opacity="0.8" stroke-width="0.9" fill="none"/></pattern>
<rect x="972.5" y="140.3" width="61.59999999999991" height="581.7" fill="rgb(225,35,20)" fill-opacity="0.42"/>
<rect x="973.5" y="141.3" width="60.59999999999991" height="579.7" fill="url(#plusB)"/>
<text x="977" y="434.8" font-size="38" text-anchor="start" font-family="'Liberation Serif', 'Times New Roman', serif" >T<tspan font-size="27" dy="8">3</tspan><tspan dy="-8">γ</tspan></text>
<text x="1102.5" y="296.9" font-size="32" font-family="'Liberation Serif', 'Times New Roman', serif" fill="#1414c8" textLength="637" lengthAdjust="spacingAndGlyphs"><tspan font-style="italic">T</tspan><tspan font-style="italic" font-size="23" dy="7">i</tspan><tspan dy="-7">=35.44388</tspan><tspan font-style="italic">z</tspan>-0.01048<tspan font-style="italic">z</tspan><tspan font-size="21" dy="-13">2</tspan><tspan dy="13">+1.03368×10</tspan><tspan font-size="21" dy="-13">-6</tspan><tspan dy="13" font-style="italic">z</tspan><tspan font-size="21" dy="-13">3</tspan><tspan dy="13">-39803.25</tspan></text>
<text transform="translate(883.9,441.2) rotate(-90)" font-size="31.5" text-anchor="middle" textLength="153.3" lengthAdjust="spacingAndGlyphs" font-family="'Liberation Serif', 'Times New Roman', serif">Depth, <tspan font-style="italic">z</tspan> (m)</text>
<text x="1195.8" y="805.6" font-size="31.5" text-anchor="start" font-family="'Liberation Serif', 'Times New Roman', serif" textLength="375.5" lengthAdjust="spacingAndGlyphs">Reservoir temperature, <tspan font-style="italic">T</tspan><tspan font-style="italic" font-size="22" dy="7.5">i</tspan><tspan dy="-7.5"> (°C)</tspan></text>
<text x="1358.7" y="979" font-size="49" text-anchor="middle" font-family="'Liberation Serif', 'Times New Roman', serif" fill="#231815" textLength="59.5" lengthAdjust="spacingAndGlyphs">(b)</text>
<g clip-path="url(#clipC)">
<line x1="542.6" y1="1104.9" x2="1076.08" y2="2012.6" stroke="#0e7b7b" stroke-width="4.7" stroke-linecap="round"/>
<line x1="542.6" y1="1104.9" x2="1111.25" y2="2012.6" stroke="#108080" stroke-width="4.7" stroke-linecap="round" stroke-dasharray="19.8 31.1"/>
<line x1="542.6" y1="1104.9" x2="1175.74" y2="2012.6" stroke="#2a3cf5" stroke-width="4.7" stroke-linecap="round"/>
<line x1="542.6" y1="1104.9" x2="1269.54" y2="2012.6" stroke="#0a0ae6" stroke-width="4.7" stroke-linecap="round" stroke-dasharray="19.8 31.1"/>
<line x1="542.6" y1="1104.9" x2="1334.02" y2="2012.6" stroke="#000000" stroke-width="4.7" stroke-linecap="round"/>
</g>
<rect x="542.6" y="1104.9" width="64.4" height="39.1" fill="rgb(250, 245, 10)" fill-opacity="0.37"/>
<rect x="542.6" y="1144" width="64.4" height="33.8" fill="rgb(255, 240, 0)" fill-opacity="0.62"/>
<rect x="542.6" y="1177.8" width="64.4" height="174.6" fill="rgb(250, 245, 10)" fill-opacity="0.37"/>
<rect x="542.6" y="1352.4" width="64.4" height="52" fill="rgb(248, 185, 20)" fill-opacity="0.55"/>
<rect x="542.6" y="1404.4" width="64.4" height="364.6" fill="rgb(245, 110, 110)" fill-opacity="0.38"/>
<rect x="542.6" y="1769" width="64.4" height="243.6" fill="rgb(225, 35, 20)" fill-opacity="0.42"/>
<pattern id="plusC" patternUnits="userSpaceOnUse" x="541.4" y="1406.2" width="22.9" height="22.46"><path d="M2.6,5h4.8M5,2.6v4.8M14.3,16.4h4.8M16.7,14v4.8" stroke="#a05c5c" stroke-opacity="0.75" stroke-width="0.9" fill="none"/></pattern>
<rect x="542.6" y="1404.4" width="64.39999999999998" height="608.1999999999998" fill="url(#plusC)"/>
<path d="M547.2,1178V1404M552.4,1182.5V1404M557.6,1178V1404M562.8,1182.5V1404M568,1178V1404M573.2,1182.5V1404M578.4,1178V1404M583.6,1182.5V1404M588.8,1178V1404M594,1182.5V1404M599.2,1178V1404M604.4,1182.5V1404" stroke="#c8c070" stroke-width="0.9" stroke-dasharray="6.5 2.5" fill="none"/>
<circle cx="545.83" cy="1181.65" r="0.6" fill="#9a9440"/><circle cx="549.61" cy="1181.04" r="0.6" fill="#9a9440"/><ellipse cx="554.83" cy="1182.49" rx="2.4" ry="1.9" fill="none" stroke="#8c8840" stroke-width="0.7"/><circle cx="560.77" cy="1182.29" r="0.6" fill="#9a9440"/><circle cx="565.37" cy="1181.37" r="0.6" fill="#9a9440"/><circle cx="571.41" cy="1182.38" r="0.6" fill="#9a9440"/><circle cx="576.05" cy="1181.05" r="0.6" fill="#9a9440"/><circle cx="582.08" cy="1181.42" r="0.6" fill="#9a9440"/><circle cx="587.09" cy="1181.2" r="0.6" fill="#9a9440"/><circle cx="592.21" cy="1182.3" r="0.6" fill="#9a9440"/><circle cx="597.46" cy="1181.52" r="0.6" fill="#9a9440"/><circle cx="602.66" cy="1181.17" r="0.6" fill="#9a9440"/><circle cx="545.9" cy="1189.12" r="0.6" fill="#9a9440"/><circle cx="552" cy="1188.7" r="0.6" fill="#9a9440"/><circle cx="557.21" cy="1189.73" r="0.6" fill="#9a9440"/><circle cx="562.55" cy="1189.04" r="0.6" fill="#9a9440"/><circle cx="566.53" cy="1188.83" r="0.6" fill="#9a9440"/><circle cx="572.72" cy="1189.99" r="0.6" fill="#9a9440"/><circle cx="577.72" cy="1189.22" r="0.6" fill="#9a9440"/><circle cx="582.26" cy="1189.78" r="0.6" fill="#9a9440"/><circle cx="588.4" cy="1188.6" r="0.6" fill="#9a9440"/><circle cx="592.55" cy="1189.78" r="0.6" fill="#9a9440"/><circle cx="598.76" cy="1188.95" r="0.6" fill="#9a9440"/><circle cx="603.05" cy="1189.14" r="0.6" fill="#9a9440"/><circle cx="545.16" cy="1196.1" r="0.6" fill="#9a9440"/><circle cx="550.84" cy="1196.81" r="0.6" fill="#9a9440"/><circle cx="555.94" cy="1196.32" r="0.6" fill="#9a9440"/><circle cx="561.44" cy="1197.15" r="0.6" fill="#9a9440"/><circle cx="565.65" cy="1197.47" r="0.6" fill="#9a9440"/><circle cx="571.42" cy="1197.29" r="0.6" fill="#9a9440"/><circle cx="575.57" cy="1196.04" r="0.6" fill="#9a9440"/><circle cx="581.89" cy="1196.44" r="0.6" fill="#9a9440"/><circle cx="586.73" cy="1196.2" r="0.6" fill="#9a9440"/><circle cx="592.66" cy="1196.75" r="0.6" fill="#9a9440"/><circle cx="597.63" cy="1196.07" r="0.6" fill="#9a9440"/><circle cx="602.27" cy="1196.05" r="0.6" fill="#9a9440"/><circle cx="546.81" cy="1204.16" r="0.6" fill="#9a9440"/><circle cx="550.71" cy="1203.57" r="0.6" fill="#9a9440"/><circle cx="556.66" cy="1203.57" r="0.6" fill="#9a9440"/><circle cx="561.29" cy="1204.15" r="0.6" fill="#9a9440"/><circle cx="567" cy="1204.38" r="0.6" fill="#9a9440"/><circle cx="572.39" cy="1204.05" r="0.6" fill="#9a9440"/><circle cx="577.59" cy="1203.7" r="0.6" fill="#9a9440"/><circle cx="582.24" cy="1204.73" r="0.6" fill="#9a9440"/><circle cx="587.24" cy="1203.81" r="0.6" fill="#9a9440"/><circle cx="592.59" cy="1204.22" r="0.6" fill="#9a9440"/><circle cx="597.4" cy="1203.5" r="0.6" fill="#9a9440"/><circle cx="603.34" cy="1203.71" r="0.6" fill="#9a9440"/><circle cx="545.39" cy="1212.22" r="0.6" fill="#9a9440"/><circle cx="550.43" cy="1212.06" r="0.6" fill="#9a9440"/><circle cx="555.33" cy="1211.02" r="0.6" fill="#9a9440"/><circle cx="560.6" cy="1211.55" r="0.6" fill="#9a9440"/><circle cx="566.06" cy="1211.16" r="0.6" fill="#9a9440"/><circle cx="570.66" cy="1212.25" r="0.6" fill="#9a9440"/><circle cx="575.92" cy="1211.61" r="0.6" fill="#9a9440"/><circle cx="582.2" cy="1211.39" r="0.6" fill="#9a9440"/><circle cx="586.13" cy="1212.07" r="0.6" fill="#9a9440"/><circle cx="592.01" cy="1211.93" r="0.6" fill="#9a9440"/><circle cx="596.37" cy="1211.62" r="0.6" fill="#9a9440"/><circle cx="601.51" cy="1211.34" r="0.6" fill="#9a9440"/><circle cx="546.53" cy="1218.55" r="0.6" fill="#9a9440"/><circle cx="551.07" cy="1220.03" r="0.6" fill="#9a9440"/><circle cx="557.35" cy="1219.22" r="0.6" fill="#9a9440"/><circle cx="562.18" cy="1219.46" r="0.6" fill="#9a9440"/><circle cx="566.95" cy="1219.82" r="0.6" fill="#9a9440"/><circle cx="571.68" cy="1219.78" r="0.6" fill="#9a9440"/><circle cx="576.67" cy="1219.84" r="0.6" fill="#9a9440"/><circle cx="582.88" cy="1219.16" r="0.6" fill="#9a9440"/><circle cx="588.07" cy="1219.19" r="0.6" fill="#9a9440"/><circle cx="593.45" cy="1218.63" r="0.6" fill="#9a9440"/><circle cx="598.21" cy="1219.84" r="0.6" fill="#9a9440"/><circle cx="604.08" cy="1218.8" r="0.6" fill="#9a9440"/><circle cx="544.7" cy="1227.4" r="0.6" fill="#9a9440"/><circle cx="550.05" cy="1226.04" r="0.6" fill="#9a9440"/><circle cx="555.84" cy="1226.61" r="0.6" fill="#9a9440"/><circle cx="561.08" cy="1226.71" r="0.6" fill="#9a9440"/><circle cx="565.9" cy="1226.62" r="0.6" fill="#9a9440"/><circle cx="570.76" cy="1227.39" r="0.6" fill="#9a9440"/><circle cx="576.57" cy="1227.21" r="0.6" fill="#9a9440"/><circle cx="582.13" cy="1226.35" r="0.6" fill="#9a9440"/><circle cx="587.37" cy="1227.33" r="0.6" fill="#9a9440"/><circle cx="591.91" cy="1226.86" r="0.6" fill="#9a9440"/><circle cx="596.48" cy="1227.17" r="0.6" fill="#9a9440"/><circle cx="601.78" cy="1226.8" r="0.6" fill="#9a9440"/><circle cx="545.6" cy="1233.57" r="0.6" fill="#9a9440"/><circle cx="551.57" cy="1234.24" r="0.6" fill="#9a9440"/><circle cx="556.88" cy="1234.72" r="0.6" fill="#9a9440"/><circle cx="562.57" cy="1233.58" r="0.6" fill="#9a9440"/><circle cx="567.21" cy="1234.37" r="0.6" fill="#9a9440"/><circle cx="572.44" cy="1234.32" r="0.6" fill="#9a9440"/><circle cx="577.49" cy="1234.84" r="0.6" fill="#9a9440"/><circle cx="582.52" cy="1234.31" r="0.6" fill="#9a9440"/><circle cx="588.11" cy="1233.59" r="0.6" fill="#9a9440"/><circle cx="592.89" cy="1233.61" r="0.6" fill="#9a9440"/><circle cx="597.62" cy="1233.45" r="0.6" fill="#9a9440"/><circle cx="602.94" cy="1233.8" r="0.6" fill="#9a9440"/><circle cx="545.13" cy="1241.86" r="0.6" fill="#9a9440"/><circle cx="550.82" cy="1241.73" r="0.6" fill="#9a9440"/><circle cx="556.13" cy="1241.58" r="0.6" fill="#9a9440"/><circle cx="561.09" cy="1241.83" r="0.6" fill="#9a9440"/><circle cx="566.1" cy="1241.38" r="0.6" fill="#9a9440"/><circle cx="571.8" cy="1242.18" r="0.6" fill="#9a9440"/><circle cx="575.73" cy="1241.81" r="0.6" fill="#9a9440"/><circle cx="582.29" cy="1241.03" r="0.6" fill="#9a9440"/><circle cx="586.38" cy="1242.14" r="0.6" fill="#9a9440"/><circle cx="591.16" cy="1242.14" r="0.6" fill="#9a9440"/><circle cx="597.22" cy="1242.12" r="0.6" fill="#9a9440"/><circle cx="602.38" cy="1242.45" r="0.6" fill="#9a9440"/><circle cx="545.95" cy="1249.37" r="0.6" fill="#9a9440"/><circle cx="550.68" cy="1249.34" r="0.6" fill="#9a9440"/><circle cx="556.47" cy="1250.02" r="0.6" fill="#9a9440"/><circle cx="562.51" cy="1248.67" r="0.6" fill="#9a9440"/><circle cx="566.27" cy="1248.64" r="0.6" fill="#9a9440"/><circle cx="571.71" cy="1249.61" r="0.6" fill="#9a9440"/><circle cx="577.47" cy="1249.31" r="0.6" fill="#9a9440"/><circle cx="582.54" cy="1248.46" r="0.6" fill="#9a9440"/><circle cx="587.63" cy="1250.05" r="0.6" fill="#9a9440"/><circle cx="593.51" cy="1249.37" r="0.6" fill="#9a9440"/><circle cx="597.71" cy="1249.92" r="0.6" fill="#9a9440"/><circle cx="603.28" cy="1249.44" r="0.6" fill="#9a9440"/><circle cx="544.62" cy="1256.47" r="0.6" fill="#9a9440"/><circle cx="550.05" cy="1256.58" r="0.6" fill="#9a9440"/><circle cx="554.74" cy="1257.01" r="0.6" fill="#9a9440"/><circle cx="560.17" cy="1256.92" r="0.6" fill="#9a9440"/><circle cx="566.09" cy="1257.07" r="0.6" fill="#9a9440"/><circle cx="570.77" cy="1256.42" r="0.6" fill="#9a9440"/><circle cx="576.71" cy="1256.57" r="0.6" fill="#9a9440"/><circle cx="580.94" cy="1257.4" r="0.6" fill="#9a9440"/><circle cx="585.92" cy="1257.37" r="0.6" fill="#9a9440"/><circle cx="591.57" cy="1256.56" r="0.6" fill="#9a9440"/><circle cx="597.87" cy="1256.65" r="0.6" fill="#9a9440"/><circle cx="602.65" cy="1256.61" r="0.6" fill="#9a9440"/><circle cx="546.86" cy="1264.6" r="0.6" fill="#9a9440"/><circle cx="551.37" cy="1263.58" r="0.6" fill="#9a9440"/><circle cx="556.38" cy="1264.23" r="0.6" fill="#9a9440"/><circle cx="561.45" cy="1264.31" r="0.6" fill="#9a9440"/><circle cx="566.54" cy="1264.24" r="0.6" fill="#9a9440"/><circle cx="572.24" cy="1264.53" r="0.6" fill="#9a9440"/><circle cx="577.79" cy="1264.62" r="0.6" fill="#9a9440"/><circle cx="582.48" cy="1264.18" r="0.6" fill="#9a9440"/><circle cx="588.4" cy="1264.03" r="0.6" fill="#9a9440"/><circle cx="593.38" cy="1265.04" r="0.6" fill="#9a9440"/><circle cx="598.88" cy="1264.33" r="0.6" fill="#9a9440"/><circle cx="603.09" cy="1264.45" r="0.6" fill="#9a9440"/><circle cx="545.39" cy="1271.79" r="0.6" fill="#9a9440"/><circle cx="550.05" cy="1271.68" r="0.6" fill="#9a9440"/><circle cx="554.83" cy="1271.42" r="0.6" fill="#9a9440"/><circle cx="560.13" cy="1272.02" r="0.6" fill="#9a9440"/><circle cx="566.63" cy="1271.2" r="0.6" fill="#9a9440"/><circle cx="570.35" cy="1272.14" r="0.6" fill="#9a9440"/><circle cx="576.07" cy="1271.76" r="0.6" fill="#9a9440"/><circle cx="580.8" cy="1271.23" r="0.6" fill="#9a9440"/><circle cx="587.01" cy="1271.92" r="0.6" fill="#9a9440"/><circle cx="592.47" cy="1272.49" r="0.6" fill="#9a9440"/><circle cx="596.88" cy="1271.94" r="0.6" fill="#9a9440"/><circle cx="602.22" cy="1271.76" r="0.6" fill="#9a9440"/><circle cx="546.03" cy="1280.01" r="0.6" fill="#9a9440"/><circle cx="551.6" cy="1278.68" r="0.6" fill="#9a9440"/><circle cx="556.92" cy="1280" r="0.6" fill="#9a9440"/><circle cx="562.43" cy="1279.34" r="0.6" fill="#9a9440"/><circle cx="566.22" cy="1279.74" r="0.6" fill="#9a9440"/><circle cx="572.89" cy="1279.62" r="0.6" fill="#9a9440"/><circle cx="577.29" cy="1279.06" r="0.6" fill="#9a9440"/><circle cx="582.99" cy="1278.62" r="0.6" fill="#9a9440"/><circle cx="588.26" cy="1279.25" r="0.6" fill="#9a9440"/><circle cx="592.31" cy="1279.77" r="0.6" fill="#9a9440"/><circle cx="598.03" cy="1278.62" r="0.6" fill="#9a9440"/><circle cx="602.88" cy="1279.83" r="0.6" fill="#9a9440"/><circle cx="544.58" cy="1287.2" r="0.6" fill="#9a9440"/><circle cx="550.79" cy="1286.09" r="0.6" fill="#9a9440"/><circle cx="555.4" cy="1287.21" r="0.6" fill="#9a9440"/><circle cx="560.68" cy="1287.34" r="0.6" fill="#9a9440"/><circle cx="565.71" cy="1286.96" r="0.6" fill="#9a9440"/><circle cx="570.64" cy="1287.3" r="0.6" fill="#9a9440"/><circle cx="576.84" cy="1286.86" r="0.6" fill="#9a9440"/><circle cx="581.22" cy="1286.51" r="0.6" fill="#9a9440"/><circle cx="586.85" cy="1286.16" r="0.6" fill="#9a9440"/><circle cx="591.92" cy="1286.42" r="0.6" fill="#9a9440"/><circle cx="596.85" cy="1286.46" r="0.6" fill="#9a9440"/><circle cx="602.84" cy="1286.23" r="0.6" fill="#9a9440"/><circle cx="545.78" cy="1293.71" r="0.6" fill="#9a9440"/><circle cx="550.62" cy="1294.13" r="0.6" fill="#9a9440"/><circle cx="557.15" cy="1294.89" r="0.6" fill="#9a9440"/><circle cx="561.78" cy="1294.12" r="0.6" fill="#9a9440"/><circle cx="567.59" cy="1294.3" r="0.6" fill="#9a9440"/><circle cx="572.28" cy="1294.49" r="0.6" fill="#9a9440"/><circle cx="576.73" cy="1294.79" r="0.6" fill="#9a9440"/><circle cx="581.97" cy="1294.3" r="0.6" fill="#9a9440"/><circle cx="588.48" cy="1294.33" r="0.6" fill="#9a9440"/><circle cx="592.75" cy="1294.61" r="0.6" fill="#9a9440"/><circle cx="598.84" cy="1294.44" r="0.6" fill="#9a9440"/><circle cx="602.69" cy="1294.86" r="0.6" fill="#9a9440"/><circle cx="544.33" cy="1302.04" r="0.6" fill="#9a9440"/><circle cx="550.94" cy="1301.2" r="0.6" fill="#9a9440"/><circle cx="555.55" cy="1302.08" r="0.6" fill="#9a9440"/><circle cx="560.18" cy="1301.34" r="0.6" fill="#9a9440"/><circle cx="565.21" cy="1301.2" r="0.6" fill="#9a9440"/><circle cx="570.49" cy="1301.42" r="0.6" fill="#9a9440"/><circle cx="576.7" cy="1302.06" r="0.6" fill="#9a9440"/><circle cx="581.92" cy="1302.01" r="0.6" fill="#9a9440"/><circle cx="587.17" cy="1301.19" r="0.6" fill="#9a9440"/><circle cx="591.99" cy="1300.98" r="0.6" fill="#9a9440"/><circle cx="597.09" cy="1302.3" r="0.6" fill="#9a9440"/><circle cx="602.26" cy="1301.42" r="0.6" fill="#9a9440"/><circle cx="545.84" cy="1309.08" r="0.6" fill="#9a9440"/><circle cx="552.06" cy="1310.01" r="0.6" fill="#9a9440"/><circle cx="557" cy="1310.03" r="0.6" fill="#9a9440"/><circle cx="562.22" cy="1308.9" r="0.6" fill="#9a9440"/><circle cx="566.9" cy="1309.61" r="0.6" fill="#9a9440"/><circle cx="572.53" cy="1309.54" r="0.6" fill="#9a9440"/><circle cx="577.38" cy="1308.68" r="0.6" fill="#9a9440"/><circle cx="583.34" cy="1308.8" r="0.6" fill="#9a9440"/><circle cx="588.57" cy="1308.65" r="0.6" fill="#9a9440"/><circle cx="593.77" cy="1309.05" r="0.6" fill="#9a9440"/><circle cx="598.7" cy="1308.46" r="0.6" fill="#9a9440"/><circle cx="603.31" cy="1308.85" r="0.6" fill="#9a9440"/><circle cx="545.41" cy="1317.01" r="0.6" fill="#9a9440"/><circle cx="550.24" cy="1317.08" r="0.6" fill="#9a9440"/><circle cx="556.27" cy="1316.1" r="0.6" fill="#9a9440"/><circle cx="560.8" cy="1317.03" r="0.6" fill="#9a9440"/><circle cx="566.11" cy="1316.37" r="0.6" fill="#9a9440"/><circle cx="571.7" cy="1316.34" r="0.6" fill="#9a9440"/><circle cx="576.85" cy="1316.7" r="0.6" fill="#9a9440"/><circle cx="580.93" cy="1317.27" r="0.6" fill="#9a9440"/><circle cx="586.03" cy="1317.22" r="0.6" fill="#9a9440"/><circle cx="592.06" cy="1317.35" r="0.6" fill="#9a9440"/><circle cx="597.59" cy="1316.59" r="0.6" fill="#9a9440"/><circle cx="601.72" cy="1316.38" r="0.6" fill="#9a9440"/><circle cx="545.4" cy="1324.5" r="0.6" fill="#9a9440"/><circle cx="550.74" cy="1323.74" r="0.6" fill="#9a9440"/><circle cx="556.19" cy="1324.1" r="0.6" fill="#9a9440"/><circle cx="562.1" cy="1324.16" r="0.6" fill="#9a9440"/><circle cx="567.01" cy="1323.6" r="0.6" fill="#9a9440"/><circle cx="571.94" cy="1323.78" r="0.6" fill="#9a9440"/><circle cx="577.78" cy="1323.48" r="0.6" fill="#9a9440"/><circle cx="582.79" cy="1324.57" r="0.6" fill="#9a9440"/><circle cx="587.81" cy="1323.52" r="0.6" fill="#9a9440"/><circle cx="592.6" cy="1323.83" r="0.6" fill="#9a9440"/><circle cx="597.83" cy="1323.87" r="0.6" fill="#9a9440"/><circle cx="604.16" cy="1324.72" r="0.6" fill="#9a9440"/><circle cx="545.73" cy="1332.09" r="0.6" fill="#9a9440"/><circle cx="550.05" cy="1332.46" r="0.6" fill="#9a9440"/><circle cx="555.48" cy="1331.25" r="0.6" fill="#9a9440"/><circle cx="561.07" cy="1331.36" r="0.6" fill="#9a9440"/><circle cx="566.42" cy="1332.13" r="0.6" fill="#9a9440"/><circle cx="570.76" cy="1331.69" r="0.6" fill="#9a9440"/><circle cx="576.64" cy="1332.02" r="0.6" fill="#9a9440"/><circle cx="581.54" cy="1331.29" r="0.6" fill="#9a9440"/><circle cx="586.42" cy="1332.06" r="0.6" fill="#9a9440"/><circle cx="591.83" cy="1332.1" r="0.6" fill="#9a9440"/><circle cx="597.39" cy="1331.52" r="0.6" fill="#9a9440"/><circle cx="601.66" cy="1332.04" r="0.6" fill="#9a9440"/><circle cx="545.97" cy="1339.35" r="0.6" fill="#9a9440"/><circle cx="550.8" cy="1338.68" r="0.6" fill="#9a9440"/><circle cx="556.48" cy="1339.52" r="0.6" fill="#9a9440"/><circle cx="561.19" cy="1339.69" r="0.6" fill="#9a9440"/><circle cx="567.56" cy="1339.53" r="0.6" fill="#9a9440"/><circle cx="572.6" cy="1338.83" r="0.6" fill="#9a9440"/><circle cx="576.76" cy="1338.98" r="0.6" fill="#9a9440"/><circle cx="582" cy="1339.12" r="0.6" fill="#9a9440"/><circle cx="588.22" cy="1338.9" r="0.6" fill="#9a9440"/><circle cx="593.57" cy="1339.17" r="0.6" fill="#9a9440"/><circle cx="597.66" cy="1339.48" r="0.6" fill="#9a9440"/><circle cx="603.3" cy="1338.98" r="0.6" fill="#9a9440"/><circle cx="545.13" cy="1347.54" r="0.6" fill="#9a9440"/><circle cx="550.7" cy="1346.42" r="0.6" fill="#9a9440"/><circle cx="556.18" cy="1346.24" r="0.6" fill="#9a9440"/><circle cx="560.55" cy="1346.55" r="0.6" fill="#9a9440"/><circle cx="566.68" cy="1345.96" r="0.6" fill="#9a9440"/><circle cx="571.34" cy="1346.76" r="0.6" fill="#9a9440"/><circle cx="575.75" cy="1346.98" r="0.6" fill="#9a9440"/><circle cx="581.99" cy="1347.18" r="0.6" fill="#9a9440"/><circle cx="586.02" cy="1347.22" r="0.6" fill="#9a9440"/><circle cx="591.65" cy="1347.31" r="0.6" fill="#9a9440"/><circle cx="597.2" cy="1346.08" r="0.6" fill="#9a9440"/><circle cx="602.69" cy="1346.85" r="0.6" fill="#9a9440"/><circle cx="546.12" cy="1354.47" r="0.6" fill="#9a9440"/><circle cx="551.31" cy="1353.51" r="0.6" fill="#9a9440"/><circle cx="557.26" cy="1353.91" r="0.6" fill="#9a9440"/><circle cx="561.45" cy="1353.53" r="0.6" fill="#9a9440"/><circle cx="567.35" cy="1354.91" r="0.6" fill="#9a9440"/><circle cx="572.14" cy="1354.75" r="0.6" fill="#9a9440"/><circle cx="577.13" cy="1354.07" r="0.6" fill="#9a9440"/><circle cx="582.27" cy="1353.92" r="0.6" fill="#9a9440"/><circle cx="587.9" cy="1353.97" r="0.6" fill="#9a9440"/><circle cx="592.31" cy="1354.55" r="0.6" fill="#9a9440"/><circle cx="597.89" cy="1354.08" r="0.6" fill="#9a9440"/><circle cx="602.9" cy="1353.53" r="0.6" fill="#9a9440"/><circle cx="545.35" cy="1361.63" r="0.6" fill="#9a9440"/><circle cx="550.99" cy="1360.98" r="0.6" fill="#9a9440"/><circle cx="556.02" cy="1360.98" r="0.6" fill="#9a9440"/><circle cx="560.18" cy="1360.97" r="0.6" fill="#9a9440"/><circle cx="565.92" cy="1361.52" r="0.6" fill="#9a9440"/><circle cx="570.81" cy="1362.51" r="0.6" fill="#9a9440"/><circle cx="576.42" cy="1362.43" r="0.6" fill="#9a9440"/><circle cx="582.12" cy="1361.49" r="0.6" fill="#9a9440"/><circle cx="586.95" cy="1361.26" r="0.6" fill="#9a9440"/><circle cx="591.68" cy="1362.05" r="0.6" fill="#9a9440"/><circle cx="597.21" cy="1361.09" r="0.6" fill="#9a9440"/><circle cx="601.63" cy="1362.18" r="0.6" fill="#9a9440"/><circle cx="546.52" cy="1369.49" r="0.6" fill="#9a9440"/><circle cx="550.95" cy="1369.7" r="0.6" fill="#9a9440"/><circle cx="556.72" cy="1368.69" r="0.6" fill="#9a9440"/><circle cx="561.27" cy="1369.44" r="0.6" fill="#9a9440"/><circle cx="567.77" cy="1369.39" r="0.6" fill="#9a9440"/><circle cx="571.87" cy="1369.6" r="0.6" fill="#9a9440"/><circle cx="576.93" cy="1369.48" r="0.6" fill="#9a9440"/><circle cx="582.46" cy="1368.5" r="0.6" fill="#9a9440"/><circle cx="587.83" cy="1369.26" r="0.6" fill="#9a9440"/><circle cx="593.66" cy="1369.59" r="0.6" fill="#9a9440"/><circle cx="597.89" cy="1369.48" r="0.6" fill="#9a9440"/><circle cx="603" cy="1369.5" r="0.6" fill="#9a9440"/><circle cx="545.26" cy="1376.93" r="0.6" fill="#9a9440"/><circle cx="549.76" cy="1377.09" r="0.6" fill="#9a9440"/><circle cx="555.56" cy="1377.14" r="0.6" fill="#9a9440"/><circle cx="559.97" cy="1377.12" r="0.6" fill="#9a9440"/><circle cx="566.62" cy="1376.89" r="0.6" fill="#9a9440"/><circle cx="570.52" cy="1377.43" r="0.6" fill="#9a9440"/><circle cx="576.39" cy="1376.39" r="0.6" fill="#9a9440"/><circle cx="581.7" cy="1377.32" r="0.6" fill="#9a9440"/><circle cx="586.07" cy="1376.85" r="0.6" fill="#9a9440"/><circle cx="592.11" cy="1377.43" r="0.6" fill="#9a9440"/><circle cx="596.36" cy="1376.76" r="0.6" fill="#9a9440"/><circle cx="602.67" cy="1377.01" r="0.6" fill="#9a9440"/><circle cx="546.78" cy="1384.5" r="0.6" fill="#9a9440"/><circle cx="551.61" cy="1384.43" r="0.6" fill="#9a9440"/><circle cx="556.06" cy="1384.82" r="0.6" fill="#9a9440"/><circle cx="561.83" cy="1383.48" r="0.6" fill="#9a9440"/><circle cx="567.51" cy="1384.55" r="0.6" fill="#9a9440"/><circle cx="572.45" cy="1383.53" r="0.6" fill="#9a9440"/><circle cx="577.73" cy="1383.99" r="0.6" fill="#9a9440"/><circle cx="583.1" cy="1383.7" r="0.6" fill="#9a9440"/><circle cx="587.54" cy="1383.61" r="0.6" fill="#9a9440"/><circle cx="592.23" cy="1383.97" r="0.6" fill="#9a9440"/><circle cx="598.52" cy="1384.12" r="0.6" fill="#9a9440"/><circle cx="603.08" cy="1384.95" r="0.6" fill="#9a9440"/><circle cx="545.46" cy="1392.5" r="0.6" fill="#9a9440"/><circle cx="549.98" cy="1391.26" r="0.6" fill="#9a9440"/><circle cx="556.25" cy="1391.08" r="0.6" fill="#9a9440"/><circle cx="561.16" cy="1392.47" r="0.6" fill="#9a9440"/><circle cx="566.25" cy="1391.87" r="0.6" fill="#9a9440"/><circle cx="570.89" cy="1391.42" r="0.6" fill="#9a9440"/><circle cx="575.61" cy="1391.56" r="0.6" fill="#9a9440"/><circle cx="581.5" cy="1391.35" r="0.6" fill="#9a9440"/><circle cx="587.45" cy="1392.55" r="0.6" fill="#9a9440"/><circle cx="591.56" cy="1391.91" r="0.6" fill="#9a9440"/><circle cx="597.71" cy="1391.88" r="0.6" fill="#9a9440"/><circle cx="602.06" cy="1392.3" r="0.6" fill="#9a9440"/><circle cx="546.25" cy="1399.44" r="0.6" fill="#9a9440"/><circle cx="551.81" cy="1398.91" r="0.6" fill="#9a9440"/><circle cx="556.9" cy="1398.88" r="0.6" fill="#9a9440"/><circle cx="562.04" cy="1398.86" r="0.6" fill="#9a9440"/><circle cx="567.47" cy="1399.01" r="0.6" fill="#9a9440"/><circle cx="572.94" cy="1398.73" r="0.6" fill="#9a9440"/><circle cx="577.74" cy="1399.82" r="0.6" fill="#9a9440"/><circle cx="583.19" cy="1399.28" r="0.6" fill="#9a9440"/><circle cx="587.88" cy="1398.92" r="0.6" fill="#9a9440"/><circle cx="593.57" cy="1399.67" r="0.6" fill="#9a9440"/><circle cx="598.22" cy="1399.25" r="0.6" fill="#9a9440"/><circle cx="604.07" cy="1399.35" r="0.6" fill="#9a9440"/>
<circle cx="544.45" cy="1107.57" r="0.7" fill="#8a8440"/><circle cx="550.83" cy="1108.24" r="0.7" fill="#8a8440"/><ellipse cx="555.79" cy="1108.09" rx="2.0" ry="2.4" fill="none" stroke="#b0a860" stroke-width="0.7"/><circle cx="560.24" cy="1108.69" r="0.7" fill="#8a8440"/><circle cx="566.11" cy="1108.14" r="0.7" fill="#8a8440"/><circle cx="571.51" cy="1107.61" r="0.7" fill="#8a8440"/><circle cx="577.64" cy="1108.94" r="0.7" fill="#8a8440"/><circle cx="581.42" cy="1107.49" r="0.7" fill="#8a8440"/><circle cx="587.32" cy="1108.97" r="0.7" fill="#8a8440"/><circle cx="592.77" cy="1108.88" r="0.7" fill="#8a8440"/><circle cx="597.85" cy="1108.19" r="0.7" fill="#8a8440"/><circle cx="603.93" cy="1108.45" r="0.7" fill="#8a8440"/><circle cx="545.94" cy="1112.73" r="0.7" fill="#8a8440"/><ellipse cx="551.75" cy="1112.64" rx="2.0" ry="2.4" fill="none" stroke="#b0a860" stroke-width="0.7"/><circle cx="556.37" cy="1112.36" r="0.7" fill="#8a8440"/><circle cx="562.53" cy="1112.34" r="0.7" fill="#8a8440"/><circle cx="566.95" cy="1112.46" r="0.7" fill="#8a8440"/><circle cx="573.53" cy="1113.59" r="0.7" fill="#8a8440"/><circle cx="578.02" cy="1112.35" r="0.7" fill="#8a8440"/><circle cx="583.26" cy="1113.41" r="0.7" fill="#8a8440"/><circle cx="588.78" cy="1113.44" r="0.7" fill="#8a8440"/><circle cx="594.56" cy="1113.3" r="0.7" fill="#8a8440"/><circle cx="599.86" cy="1112.82" r="0.7" fill="#8a8440"/><circle cx="604.02" cy="1113.25" r="0.7" fill="#8a8440"/><ellipse cx="545.89" cy="1117.66" rx="2.0" ry="2.4" fill="none" stroke="#b0a860" stroke-width="0.7"/><circle cx="550" cy="1118.08" r="0.7" fill="#8a8440"/><circle cx="556.38" cy="1118.08" r="0.7" fill="#8a8440"/><circle cx="561.26" cy="1118.1" r="0.7" fill="#8a8440"/><circle cx="565.87" cy="1117.52" r="0.7" fill="#8a8440"/><circle cx="572.39" cy="1118.19" r="0.7" fill="#8a8440"/><circle cx="577.38" cy="1117.54" r="0.7" fill="#8a8440"/><circle cx="582.4" cy="1117.23" r="0.7" fill="#8a8440"/><circle cx="587.06" cy="1118.03" r="0.7" fill="#8a8440"/><circle cx="592.94" cy="1117.17" r="0.7" fill="#8a8440"/><circle cx="597.82" cy="1116.88" r="0.7" fill="#8a8440"/><ellipse cx="602.9" cy="1117.67" rx="2.0" ry="2.4" fill="none" stroke="#b0a860" stroke-width="0.7"/><circle cx="545.91" cy="1121.71" r="0.7" fill="#8a8440"/><circle cx="552.1" cy="1121.35" r="0.7" fill="#8a8440"/><circle cx="557.57" cy="1121.86" r="0.7" fill="#8a8440"/><circle cx="562.67" cy="1122.52" r="0.7" fill="#8a8440"/><circle cx="567.74" cy="1121.28" r="0.7" fill="#8a8440"/><circle cx="573" cy="1121.91" r="0.7" fill="#8a8440"/><circle cx="577.75" cy="1122.03" r="0.7" fill="#8a8440"/><circle cx="583.61" cy="1121.82" r="0.7" fill="#8a8440"/><circle cx="588.5" cy="1121.54" r="0.7" fill="#8a8440"/><circle cx="593.42" cy="1122.2" r="0.7" fill="#8a8440"/><ellipse cx="600.01" cy="1121.36" rx="2.0" ry="2.4" fill="none" stroke="#b0a860" stroke-width="0.7"/><circle cx="604.8" cy="1122.16" r="0.7" fill="#8a8440"/><circle cx="545.5" cy="1126.31" r="0.7" fill="#8a8440"/><circle cx="550.02" cy="1126.26" r="0.7" fill="#8a8440"/><circle cx="556.24" cy="1127.16" r="0.7" fill="#8a8440"/><circle cx="561.5" cy="1126.25" r="0.7" fill="#8a8440"/><circle cx="566.1" cy="1126.26" r="0.7" fill="#8a8440"/><circle cx="571.9" cy="1126.18" r="0.7" fill="#8a8440"/><circle cx="577.29" cy="1127.07" r="0.7" fill="#8a8440"/><circle cx="582.25" cy="1126.08" r="0.7" fill="#8a8440"/><circle cx="587.12" cy="1126.71" r="0.7" fill="#8a8440"/><ellipse cx="593.18" cy="1126.12" rx="2.0" ry="2.4" fill="none" stroke="#b0a860" stroke-width="0.7"/><circle cx="598.34" cy="1127.25" r="0.7" fill="#8a8440"/><circle cx="603.77" cy="1127.22" r="0.7" fill="#8a8440"/><circle cx="546.98" cy="1130.84" r="0.7" fill="#8a8440"/><circle cx="551.08" cy="1131.84" r="0.7" fill="#8a8440"/><circle cx="556.67" cy="1130.57" r="0.7" fill="#8a8440"/><circle cx="562.35" cy="1131.17" r="0.7" fill="#8a8440"/><circle cx="566.96" cy="1131.87" r="0.7" fill="#8a8440"/><circle cx="572.72" cy="1131.99" r="0.7" fill="#8a8440"/><circle cx="577.7" cy="1130.5" r="0.7" fill="#8a8440"/><circle cx="584" cy="1130.87" r="0.7" fill="#8a8440"/><ellipse cx="589.33" cy="1131.18" rx="2.0" ry="2.4" fill="none" stroke="#b0a860" stroke-width="0.7"/><circle cx="594.26" cy="1130.59" r="0.7" fill="#8a8440"/><circle cx="598.87" cy="1131.49" r="0.7" fill="#8a8440"/><circle cx="605.27" cy="1131.71" r="0.7" fill="#8a8440"/><circle cx="545.75" cy="1136.24" r="0.7" fill="#8a8440"/><circle cx="551.16" cy="1135.38" r="0.7" fill="#8a8440"/><circle cx="555.1" cy="1135.38" r="0.7" fill="#8a8440"/><circle cx="561.13" cy="1135.59" r="0.7" fill="#8a8440"/><circle cx="565.56" cy="1135.2" r="0.7" fill="#8a8440"/><circle cx="571.25" cy="1135.54" r="0.7" fill="#8a8440"/><circle cx="576.61" cy="1135.9" r="0.7" fill="#8a8440"/><ellipse cx="582.45" cy="1136.35" rx="2.0" ry="2.4" fill="none" stroke="#b0a860" stroke-width="0.7"/><circle cx="587.31" cy="1136.5" r="0.7" fill="#8a8440"/><circle cx="592.61" cy="1135.68" r="0.7" fill="#8a8440"/><circle cx="597.96" cy="1136.22" r="0.7" fill="#8a8440"/><circle cx="603.78" cy="1135.68" r="0.7" fill="#8a8440"/><circle cx="546" cy="1139.73" r="0.7" fill="#8a8440"/><circle cx="551.16" cy="1139.72" r="0.7" fill="#8a8440"/><circle cx="556.58" cy="1139.9" r="0.7" fill="#8a8440"/><circle cx="562.38" cy="1140.79" r="0.7" fill="#8a8440"/><circle cx="567.43" cy="1140.37" r="0.7" fill="#8a8440"/><circle cx="572.5" cy="1141.13" r="0.7" fill="#8a8440"/><ellipse cx="578.84" cy="1140.63" rx="2.0" ry="2.4" fill="none" stroke="#b0a860" stroke-width="0.7"/><circle cx="583.9" cy="1140.2" r="0.7" fill="#8a8440"/><circle cx="588.79" cy="1140.19" r="0.7" fill="#8a8440"/><circle cx="594.67" cy="1140.57" r="0.7" fill="#8a8440"/><circle cx="599.88" cy="1140.59" r="0.7" fill="#8a8440"/><circle cx="603.89" cy="1140.09" r="0.7" fill="#8a8440"/><circle cx="545.25" cy="1145.66" r="0.7" fill="#8a8440"/><circle cx="550.65" cy="1144.77" r="0.7" fill="#8a8440"/><circle cx="555.95" cy="1145.21" r="0.7" fill="#8a8440"/><circle cx="561.76" cy="1145.17" r="0.7" fill="#8a8440"/><circle cx="565.51" cy="1145.78" r="0.7" fill="#8a8440"/><ellipse cx="571.03" cy="1144.78" rx="2.0" ry="2.4" fill="none" stroke="#b0a860" stroke-width="0.7"/><circle cx="577.64" cy="1145.28" r="0.7" fill="#8a8440"/><circle cx="582.49" cy="1144.89" r="0.7" fill="#8a8440"/><circle cx="587.34" cy="1144.69" r="0.7" fill="#8a8440"/><circle cx="593.22" cy="1144.78" r="0.7" fill="#8a8440"/><circle cx="597.5" cy="1144.53" r="0.7" fill="#8a8440"/><circle cx="602.83" cy="1145.64" r="0.7" fill="#8a8440"/><circle cx="545.88" cy="1149.17" r="0.7" fill="#8a8440"/><circle cx="551.8" cy="1149.28" r="0.7" fill="#8a8440"/><circle cx="557.34" cy="1149.9" r="0.7" fill="#8a8440"/><circle cx="562.29" cy="1149.56" r="0.7" fill="#8a8440"/><ellipse cx="567.25" cy="1149.51" rx="2.0" ry="2.4" fill="none" stroke="#b0a860" stroke-width="0.7"/><circle cx="573.08" cy="1148.89" r="0.7" fill="#8a8440"/><circle cx="577.62" cy="1149.92" r="0.7" fill="#8a8440"/><circle cx="583.68" cy="1149.72" r="0.7" fill="#8a8440"/><circle cx="588.27" cy="1149.16" r="0.7" fill="#8a8440"/><circle cx="594" cy="1149.22" r="0.7" fill="#8a8440"/><circle cx="599.63" cy="1150.03" r="0.7" fill="#8a8440"/><circle cx="604.9" cy="1149.81" r="0.7" fill="#8a8440"/><circle cx="545.73" cy="1154.28" r="0.7" fill="#8a8440"/><circle cx="550.05" cy="1153.78" r="0.7" fill="#8a8440"/><circle cx="555.06" cy="1154.39" r="0.7" fill="#8a8440"/><ellipse cx="561.42" cy="1154.38" rx="2.0" ry="2.4" fill="none" stroke="#b0a860" stroke-width="0.7"/><circle cx="565.71" cy="1154.52" r="0.7" fill="#8a8440"/><circle cx="571.98" cy="1153.99" r="0.7" fill="#8a8440"/><circle cx="576.98" cy="1153.52" r="0.7" fill="#8a8440"/><circle cx="582.36" cy="1153.43" r="0.7" fill="#8a8440"/><circle cx="587.26" cy="1154.69" r="0.7" fill="#8a8440"/><circle cx="593.01" cy="1154" r="0.7" fill="#8a8440"/><circle cx="598.76" cy="1154.4" r="0.7" fill="#8a8440"/><circle cx="604.09" cy="1154.18" r="0.7" fill="#8a8440"/><circle cx="546.5" cy="1159.03" r="0.7" fill="#8a8440"/><circle cx="550.83" cy="1158.22" r="0.7" fill="#8a8440"/><ellipse cx="556.25" cy="1158.33" rx="2.0" ry="2.4" fill="none" stroke="#b0a860" stroke-width="0.7"/><circle cx="562.93" cy="1159.07" r="0.7" fill="#8a8440"/><circle cx="567.8" cy="1159.47" r="0.7" fill="#8a8440"/><circle cx="572.24" cy="1159.21" r="0.7" fill="#8a8440"/><circle cx="578.09" cy="1158.61" r="0.7" fill="#8a8440"/><circle cx="583.74" cy="1159.28" r="0.7" fill="#8a8440"/><circle cx="588.8" cy="1159.1" r="0.7" fill="#8a8440"/><circle cx="594.51" cy="1158.58" r="0.7" fill="#8a8440"/><circle cx="599.79" cy="1158.76" r="0.7" fill="#8a8440"/><circle cx="605.21" cy="1159.15" r="0.7" fill="#8a8440"/><circle cx="545.28" cy="1164.17" r="0.7" fill="#8a8440"/><ellipse cx="550.42" cy="1162.94" rx="2.0" ry="2.4" fill="none" stroke="#b0a860" stroke-width="0.7"/><circle cx="555.74" cy="1163.2" r="0.7" fill="#8a8440"/><circle cx="561.75" cy="1162.89" r="0.7" fill="#8a8440"/><circle cx="566.5" cy="1163.5" r="0.7" fill="#8a8440"/><circle cx="571" cy="1163.71" r="0.7" fill="#8a8440"/><circle cx="577.03" cy="1163.3" r="0.7" fill="#8a8440"/><circle cx="582.92" cy="1162.77" r="0.7" fill="#8a8440"/><circle cx="587.71" cy="1163.07" r="0.7" fill="#8a8440"/><circle cx="592.8" cy="1163.19" r="0.7" fill="#8a8440"/><circle cx="598.4" cy="1164.03" r="0.7" fill="#8a8440"/><circle cx="602.73" cy="1163.37" r="0.7" fill="#8a8440"/><ellipse cx="546.63" cy="1167.66" rx="2.0" ry="2.4" fill="none" stroke="#b0a860" stroke-width="0.7"/><circle cx="551.29" cy="1168.71" r="0.7" fill="#8a8440"/><circle cx="556.23" cy="1168.14" r="0.7" fill="#8a8440"/><circle cx="562.47" cy="1168.26" r="0.7" fill="#8a8440"/><circle cx="566.76" cy="1168.73" r="0.7" fill="#8a8440"/><circle cx="571.99" cy="1167.25" r="0.7" fill="#8a8440"/><circle cx="578.14" cy="1167.32" r="0.7" fill="#8a8440"/><circle cx="583.06" cy="1168.47" r="0.7" fill="#8a8440"/><circle cx="588.75" cy="1168.13" r="0.7" fill="#8a8440"/><circle cx="594.62" cy="1167.37" r="0.7" fill="#8a8440"/><circle cx="600.03" cy="1168.23" r="0.7" fill="#8a8440"/><ellipse cx="604.85" cy="1167.23" rx="2.0" ry="2.4" fill="none" stroke="#b0a860" stroke-width="0.7"/><circle cx="545.69" cy="1172.43" r="0.7" fill="#8a8440"/><circle cx="550.24" cy="1172.82" r="0.7" fill="#8a8440"/><circle cx="555.54" cy="1173.3" r="0.7" fill="#8a8440"/><circle cx="561.67" cy="1172.4" r="0.7" fill="#8a8440"/><circle cx="565.86" cy="1172.45" r="0.7" fill="#8a8440"/><circle cx="572.39" cy="1172.29" r="0.7" fill="#8a8440"/><circle cx="576.89" cy="1172.12" r="0.7" fill="#8a8440"/><circle cx="582.17" cy="1173.32" r="0.7" fill="#8a8440"/><circle cx="587.34" cy="1171.82" r="0.7" fill="#8a8440"/><circle cx="592.99" cy="1173.06" r="0.7" fill="#8a8440"/><ellipse cx="597.85" cy="1171.96" rx="2.0" ry="2.4" fill="none" stroke="#b0a860" stroke-width="0.7"/><circle cx="603.18" cy="1173.06" r="0.7" fill="#8a8440"/>
<rect x="542.6" y="1104.9" width="805.4" height="907.6999999999998" fill="none" stroke="#000" stroke-width="2.6"/>
<line x1="542.6" y1="1104.9" x2="542.6" y2="1089.9" stroke="#000" stroke-width="2.6" />
<line x1="542.6" y1="2012.6" x2="542.6" y2="1999.6" stroke="#000" stroke-width="2.6" />
<text x="547.6" y="1073.1" font-size="32" text-anchor="middle" font-family="'Liberation Serif', 'Times New Roman', serif" >0</text>
<text x="547.6" y="2057.1" font-size="32" text-anchor="middle" font-family="'Liberation Serif', 'Times New Roman', serif" >0</text>
<line x1="615.88" y1="1104.9" x2="615.88" y2="1097.9" stroke="#000" stroke-width="2.6" />
<line x1="615.88" y1="2012.6" x2="615.88" y2="2006.6" stroke="#000" stroke-width="2.6" />
<line x1="689.16" y1="1104.9" x2="689.16" y2="1089.9" stroke="#000" stroke-width="2.6" />
<line x1="689.16" y1="2012.6" x2="689.16" y2="1999.6" stroke="#000" stroke-width="2.6" />
<text x="694.16" y="1073.1" font-size="32" text-anchor="middle" font-family="'Liberation Serif', 'Times New Roman', serif" >20</text>
<text x="694.16" y="2057.1" font-size="32" text-anchor="middle" font-family="'Liberation Serif', 'Times New Roman', serif" >20</text>
<line x1="762.44" y1="1104.9" x2="762.44" y2="1097.9" stroke="#000" stroke-width="2.6" />
<line x1="762.44" y1="2012.6" x2="762.44" y2="2006.6" stroke="#000" stroke-width="2.6" />
<line x1="835.72" y1="1104.9" x2="835.72" y2="1089.9" stroke="#000" stroke-width="2.6" />
<line x1="835.72" y1="2012.6" x2="835.72" y2="1999.6" stroke="#000" stroke-width="2.6" />
<text x="840.72" y="1073.1" font-size="32" text-anchor="middle" font-family="'Liberation Serif', 'Times New Roman', serif" >40</text>
<text x="840.72" y="2057.1" font-size="32" text-anchor="middle" font-family="'Liberation Serif', 'Times New Roman', serif" >40</text>
<line x1="909" y1="1104.9" x2="909" y2="1097.9" stroke="#000" stroke-width="2.6" />
<line x1="909" y1="2012.6" x2="909" y2="2006.6" stroke="#000" stroke-width="2.6" />
<line x1="982.28" y1="1104.9" x2="982.28" y2="1089.9" stroke="#000" stroke-width="2.6" />
<line x1="982.28" y1="2012.6" x2="982.28" y2="1999.6" stroke="#000" stroke-width="2.6" />
<text x="987.28" y="1073.1" font-size="32" text-anchor="middle" font-family="'Liberation Serif', 'Times New Roman', serif" >60</text>
<text x="987.28" y="2057.1" font-size="32" text-anchor="middle" font-family="'Liberation Serif', 'Times New Roman', serif" >60</text>
<line x1="1055.56" y1="1104.9" x2="1055.56" y2="1097.9" stroke="#000" stroke-width="2.6" />
<line x1="1055.56" y1="2012.6" x2="1055.56" y2="2006.6" stroke="#000" stroke-width="2.6" />
<line x1="1128.84" y1="1104.9" x2="1128.84" y2="1089.9" stroke="#000" stroke-width="2.6" />
<line x1="1128.84" y1="2012.6" x2="1128.84" y2="1999.6" stroke="#000" stroke-width="2.6" />
<text x="1133.84" y="1073.1" font-size="32" text-anchor="middle" font-family="'Liberation Serif', 'Times New Roman', serif" >80</text>
<text x="1133.84" y="2057.1" font-size="32" text-anchor="middle" font-family="'Liberation Serif', 'Times New Roman', serif" >80</text>
<line x1="1202.12" y1="1104.9" x2="1202.12" y2="1097.9" stroke="#000" stroke-width="2.6" />
<line x1="1202.12" y1="2012.6" x2="1202.12" y2="2006.6" stroke="#000" stroke-width="2.6" />
<line x1="1275.4" y1="1104.9" x2="1275.4" y2="1089.9" stroke="#000" stroke-width="2.6" />
<line x1="1275.4" y1="2012.6" x2="1275.4" y2="1999.6" stroke="#000" stroke-width="2.6" />
<text x="1280.4" y="1073.1" font-size="32" text-anchor="middle" font-family="'Liberation Serif', 'Times New Roman', serif" >100</text>
<text x="1280.4" y="2057.1" font-size="32" text-anchor="middle" font-family="'Liberation Serif', 'Times New Roman', serif" >100</text>
<line x1="1348" y1="1104.9" x2="1348" y2="1097.9" stroke="#000" stroke-width="2.6" />
<line x1="542.6" y1="1104.9" x2="528.6" y2="1104.9" stroke="#000" stroke-width="2.6" />
<text x="520.5" y="1115.9" font-size="32" text-anchor="end" font-family="'Liberation Serif', 'Times New Roman', serif" >0</text>
<line x1="542.6" y1="1161.63" x2="536" y2="1161.63" stroke="#000" stroke-width="2.6" />
<line x1="542.6" y1="1218.37" x2="528.6" y2="1218.37" stroke="#000" stroke-width="2.6" />
<text x="520.5" y="1229.37" font-size="32" text-anchor="end" font-family="'Liberation Serif', 'Times New Roman', serif" >500</text>
<line x1="542.6" y1="1275.1" x2="536" y2="1275.1" stroke="#000" stroke-width="2.6" />
<line x1="542.6" y1="1331.83" x2="528.6" y2="1331.83" stroke="#000" stroke-width="2.6" />
<text x="520.5" y="1342.83" font-size="32" text-anchor="end" font-family="'Liberation Serif', 'Times New Roman', serif" >1000</text>
<line x1="542.6" y1="1388.56" x2="536" y2="1388.56" stroke="#000" stroke-width="2.6" />
<line x1="542.6" y1="1445.3" x2="528.6" y2="1445.3" stroke="#000" stroke-width="2.6" />
<text x="520.5" y="1456.3" font-size="32" text-anchor="end" font-family="'Liberation Serif', 'Times New Roman', serif" >1500</text>
<line x1="542.6" y1="1502.03" x2="536" y2="1502.03" stroke="#000" stroke-width="2.6" />
<line x1="542.6" y1="1558.76" x2="528.6" y2="1558.76" stroke="#000" stroke-width="2.6" />
<text x="520.5" y="1569.76" font-size="32" text-anchor="end" font-family="'Liberation Serif', 'Times New Roman', serif" >2000</text>
<line x1="542.6" y1="1615.49" x2="536" y2="1615.49" stroke="#000" stroke-width="2.6" />
<line x1="542.6" y1="1672.22" x2="528.6" y2="1672.22" stroke="#000" stroke-width="2.6" />
<text x="520.5" y="1683.22" font-size="32" text-anchor="end" font-family="'Liberation Serif', 'Times New Roman', serif" >2500</text>
<line x1="542.6" y1="1728.96" x2="536" y2="1728.96" stroke="#000" stroke-width="2.6" />
<line x1="542.6" y1="1785.69" x2="528.6" y2="1785.69" stroke="#000" stroke-width="2.6" />
<text x="520.5" y="1796.69" font-size="32" text-anchor="end" font-family="'Liberation Serif', 'Times New Roman', serif" >3000</text>
<line x1="542.6" y1="1842.42" x2="536" y2="1842.42" stroke="#000" stroke-width="2.6" />
<line x1="542.6" y1="1899.16" x2="528.6" y2="1899.16" stroke="#000" stroke-width="2.6" />
<text x="520.5" y="1910.16" font-size="32" text-anchor="end" font-family="'Liberation Serif', 'Times New Roman', serif" >3500</text>
<line x1="542.6" y1="1955.89" x2="536" y2="1955.89" stroke="#000" stroke-width="2.6" />
<line x1="542.6" y1="2012.62" x2="528.6" y2="2012.62" stroke="#000" stroke-width="2.6" />
<text x="520.5" y="2023.62" font-size="32" text-anchor="end" font-family="'Liberation Serif', 'Times New Roman', serif" >4000</text>
<text x="751.6" y="1020.1" font-size="39" text-anchor="start" font-family="'Liberation Serif', 'Noto Serif CJK SC', serif" textLength="388" lengthAdjust="spacingAndGlyphs">Stress magnitude<tspan dx="-10" dy="3">（</tspan><tspan dx="10" dy="-3">MPa)</tspan></text>
<text transform="translate(445.7,1538.7) rotate(-90)" font-size="39.5" text-anchor="middle" textLength="197.4" lengthAdjust="spacingAndGlyphs" font-family="'Liberation Serif', 'Noto Serif CJK SC', serif">Depth<tspan dy="5.5">（</tspan><tspan dy="-5.5">m</tspan><tspan dy="5.5">）</tspan></text>
<text x="562.5" y="1135.5" font-size="37" text-anchor="start" font-family="'Liberation Serif', 'Times New Roman', serif" >Q</text>
<text x="560.6" y="1288.4" font-size="37.5" text-anchor="start" font-family="'Liberation Serif', 'Times New Roman', serif" >N</text>
<text x="548.5" y="1594.2" font-size="34.5" text-anchor="start" font-family="'Liberation Serif', 'Times New Roman', serif" >T<tspan font-size="24" dy="9.3">3</tspan><tspan dy="-9.3">γ</tspan></text>
<text x="548.5" y="1831.8" font-size="34.5" text-anchor="start" font-family="'Liberation Serif', 'Times New Roman', serif" >T<tspan font-size="24" dy="9.3">3</tspan><tspan dy="-9.3">γ</tspan></text>
<text transform="translate(613.5,1869) rotate(90)" font-size="31" text-anchor="middle" font-family="'Liberation Serif', 'Times New Roman', serif">HDR resources</text>
<text x="909" y="2107.3" font-size="42" text-anchor="middle" font-family="'Liberation Serif', 'Times New Roman', serif" fill="#111">(c)</text>
<line x1="943.6" y1="1230.7" x2="1013.9" y2="1230.7" stroke="#2a3cf5" stroke-width="5" stroke-linecap="round"/>
<text x="1035.1" y="1242.8" font-size="32" text-anchor="start" font-family="'Liberation Serif', 'Times New Roman', serif" ><tspan font-style="italic">Δσ</tspan><tspan font-style="italic" font-size="21" dy="8.5">Hmin</tspan></text>
<text x="1117.2" y="1242.8" font-size="32" text-anchor="start" font-family="'Liberation Serif', 'Times New Roman', serif" textLength="201.6" lengthAdjust="spacingAndGlyphs">=0.0216 MPa/m</text>
<line x1="943.6" y1="1284.45" x2="1013.9" y2="1284.45" stroke="#0e7b7b" stroke-width="5" stroke-linecap="round"/>
<text x="1033.3" y="1296.6" font-size="32" text-anchor="start" font-family="'Liberation Serif', 'Times New Roman', serif" ><tspan font-style="italic">Δσ</tspan><tspan font-style="italic" font-size="21" dy="8.5">hmin</tspan></text>
<text x="1110.7" y="1296.6" font-size="32" text-anchor="start" font-family="'Liberation Serif', 'Times New Roman', serif" textLength="201.9" lengthAdjust="spacingAndGlyphs">=0.0182 MPa/m</text>
<line x1="943.6" y1="1338.2" x2="963.9" y2="1338.2" stroke="#0a0ae6" stroke-width="5" stroke-linecap="round"/>
<line x1="993.7" y1="1338.2" x2="1013.9" y2="1338.2" stroke="#0a0ae6" stroke-width="5" stroke-linecap="round"/>
<text x="1033.3" y="1349.9" font-size="32" text-anchor="start" font-family="'Liberation Serif', 'Times New Roman', serif" ><tspan font-style="italic">Δσ</tspan><tspan font-style="italic" font-size="21" dy="8.5">Hmax</tspan></text>
<text x="1118.8" y="1349.9" font-size="32" text-anchor="start" font-family="'Liberation Serif', 'Times New Roman', serif" textLength="201.9" lengthAdjust="spacingAndGlyphs">=0.0248 MPa/m</text>
<line x1="943.6" y1="1391.95" x2="963.9" y2="1391.95" stroke="#108080" stroke-width="5" stroke-linecap="round"/>
<line x1="993.7" y1="1391.95" x2="1013.9" y2="1391.95" stroke="#108080" stroke-width="5" stroke-linecap="round"/>
<text x="1033.3" y="1404.3" font-size="32" text-anchor="start" font-family="'Liberation Serif', 'Times New Roman', serif" ><tspan font-style="italic">Δσ</tspan><tspan font-style="italic" font-size="21" dy="8.5">hmax</tspan></text>
<text x="1114.1" y="1404.3" font-size="32" text-anchor="start" font-family="'Liberation Serif', 'Times New Roman', serif" textLength="202.3" lengthAdjust="spacingAndGlyphs">=0.0194 MPa/m</text>
<line x1="943.6" y1="1445.7" x2="1013.9" y2="1445.7" stroke="#000000" stroke-width="5" stroke-linecap="round"/>
<text x="1035.3" y="1457.6" font-size="32" text-anchor="start" font-family="'Liberation Serif', 'Times New Roman', serif" ><tspan font-style="italic">Δσ</tspan><tspan font-style="italic" font-size="21" dy="8.5">v</tspan></text>
<text x="1079" y="1457.6" font-size="32" text-anchor="start" font-family="'Liberation Serif', 'Times New Roman', serif" textLength="202.1" lengthAdjust="spacingAndGlyphs">=0.0270 MPa/m</text></svg>
</body></html>
